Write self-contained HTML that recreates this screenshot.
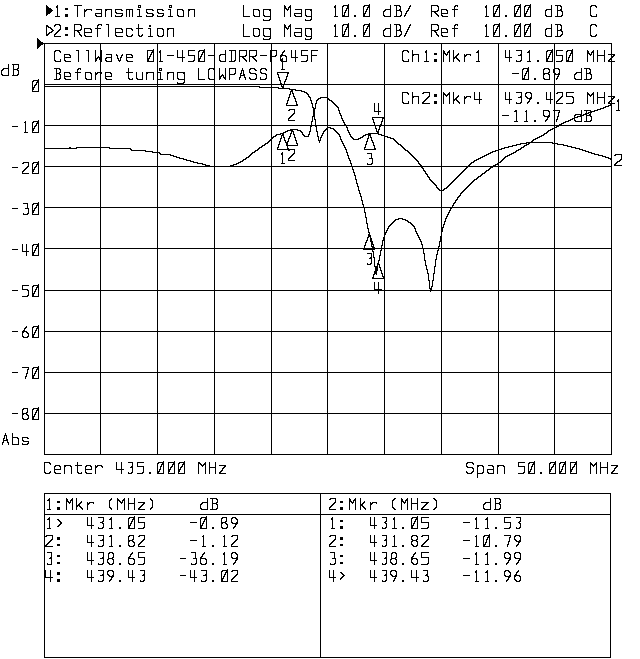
<!DOCTYPE html>
<html lang="en"><head><meta charset="utf-8"><title>Network analyzer plot</title>
<style>
html,body{margin:0;padding:0;background:#fff;}
body{width:640px;height:659px;overflow:hidden;font-family:"Liberation Mono",monospace;}
svg{display:block;}
</style></head><body>
<svg width="640" height="659" viewBox="0 0 640 659" shape-rendering="crispEdges">
<title>Network analyzer plot: CellWave 01-450-dDRR-P645F, Before tuning LOWPASS</title>
<desc>1:Transmission Log Mag 10.0 dB/ Ref 10.00 dB C; 2:Reflection Log Mag 10.0 dB/ Ref 10.00 dB C. Ch1:Mkr1 431.050 MHz -0.89 dB; Ch2:Mkr4 439.425 MHz -11.97 dB. Center 435.000 MHz, Span 50.000 MHz. Marker table 1: 431.05 -0.89, 431.82 -1.12, 438.65 -36.19, 439.43 -43.02. Marker table 2: 431.05 -11.53, 431.82 -10.79, 438.65 -11.99, 439.43 -11.96.</desc>
<rect width="640" height="659" fill="#fff"/>
<path fill="#000" d="M292 93h2v1h-2zM306 93h2v1h-2zM407 93h2v1h-2zM422 93h2v1h-2zM443 93h2v1h-2zM448 93h2v1h-2zM525 93h2v1h-2zM530 93h2v1h-2zM556 93h2v1h-2zM587 93h2v1h-2zM592 93h2v1h-2zM289 94h2v1h-2zM307 94h2v1h-2zM434 94h3v1h-3zM443 94h3v1h-3zM447 94h3v1h-3zM587 94h3v1h-3zM591 94h3v1h-3zM44 43h568v1h-568zM78 504h2v1h-2zM87 504h2v1h-2zM142 504h2v1h-2zM200 504h2v1h-2zM216 504h2v1h-2zM332 504h2v1h-2zM360 504h3v1h-3zM370 504h2v1h-2zM425 504h2v1h-2zM483 504h2v1h-2zM499 504h2v1h-2zM44 514h567v1h-567zM57 581h3v1h-3zM98 581h5v1h-5zM119 581h2v1h-2zM140 581h4v1h-4zM201 581h5v1h-5zM212 581h2v1h-2zM221 581h7v1h-7zM231 581h7v1h-7zM382 581h4v1h-4zM402 581h2v1h-2zM423 581h5v1h-5zM475 581h4v1h-4zM485 581h4v1h-4zM495 581h2v1h-2zM516 581h4v1h-4zM27 166h2v1h-2zM35 166h2v1h-2zM44 166h568v1h-568zM44 454h568v1h-568zM95 58h3v1h-3zM99 58h3v1h-3zM105 58h2v1h-2zM117 58h2v1h-2zM147 58h3v1h-3zM198 58h3v1h-3zM243 58h2v1h-2zM253 58h2v1h-2zM270 58h2v1h-2zM453 58h2v1h-2zM456 58h2v1h-2zM546 58h3v1h-3zM610 58h2v1h-2zM289 109h6v1h-6zM313 109h2v1h-2zM597 109h4v1h-4zM100 53h2v1h-2zM270 53h2v1h-2zM434 53h3v1h-3zM443 53h3v1h-3zM570 53h3v1h-3zM587 53h3v1h-3zM35 207h2v1h-2zM44 207h568v1h-568zM131 150h15v1h-15zM255 150h3v1h-3zM288 150h2v1h-2zM405 150h3v1h-3zM495 150h4v1h-4zM516 150h3v1h-3zM582 150h4v1h-4zM12 290h6v1h-6zM27 290h2v1h-2zM44 290h568v1h-568zM291 115h2v1h-2zM313 115h2v1h-2zM340 115h2v1h-2zM502 115h7v1h-7zM543 115h2v1h-2zM548 115h2v1h-2zM574 115h2v1h-2zM580 115h4v1h-4zM586 115h5v1h-5zM54 469h7v1h-7zM85 469h7v1h-7zM116 469h8v1h-8zM159 469h2v1h-2zM168 469h3v1h-3zM178 469h3v1h-3zM487 469h7v1h-7zM530 469h2v1h-2zM549 469h3v1h-3zM561 469h2v1h-2zM570 469h3v1h-3zM12 413h6v1h-6zM22 413h5v1h-5zM44 413h568v1h-568zM44 577h9v1h-9zM87 577h7v1h-7zM111 577h2v1h-2zM128 577h7v1h-7zM190 577h7v1h-7zM233 577h2v1h-2zM329 577h7v1h-7zM341 577h2v1h-2zM370 577h7v1h-7zM411 577h8v1h-8zM508 577h2v1h-2zM58 525h2v1h-2zM87 525h7v1h-7zM128 525h3v1h-3zM200 525h3v1h-3zM370 525h7v1h-7zM411 525h3v1h-3zM95 59h2v1h-2zM99 59h3v1h-3zM147 59h2v1h-2zM198 59h2v1h-2zM244 59h2v1h-2zM254 59h2v1h-2zM270 59h2v1h-2zM280 59h3v1h-3zM434 59h3v1h-3zM457 59h2v1h-2zM546 59h2v1h-2zM609 59h3v1h-3zM12 331h6v1h-6zM22 331h5v1h-5zM44 331h568v1h-568zM44 572h2v1h-2zM57 572h3v1h-3zM225 572h3v1h-3zM340 572h2v1h-2zM475 572h2v1h-2zM485 572h3v1h-3zM509 572h2v1h-2zM516 572h2v1h-2zM33 121h6v1h-6zM311 121h2v1h-2zM381 121h2v1h-2zM514 121h4v1h-4zM524 121h4v1h-4zM534 121h2v1h-2zM565 121h4v1h-4zM575 121h7v1h-7zM584 121h7v1h-7zM22 289h6v1h-6zM35 289h2v1h-2zM374 289h8v1h-8zM430 289h2v1h-2zM437 188h2v1h-2zM444 188h3v1h-3zM465 188h2v1h-2zM95 13h7v1h-7zM116 13h7v1h-7zM147 13h6v1h-6zM158 13h6v1h-6zM294 13h8v1h-8zM363 13h3v1h-3zM405 13h2v1h-2zM435 13h2v1h-2zM441 13h7v1h-7zM493 13h3v1h-3zM514 13h3v1h-3zM524 13h3v1h-3zM288 110h2v1h-2zM313 110h2v1h-2zM338 110h2v1h-2zM515 110h2v1h-2zM543 110h6v1h-6zM553 110h7v1h-7zM584 110h7v1h-7zM594 110h4v1h-4zM616 110h4v1h-4zM441 229h2v1h-2zM2 75h7v1h-7zM12 75h6v1h-6zM221 75h3v1h-3zM240 75h5v1h-5zM524 75h2v1h-2zM64 54h6v1h-6zM100 54h2v1h-2zM106 54h6v1h-6zM126 54h6v1h-6zM150 54h2v1h-2zM201 54h2v1h-2zM220 54h6v1h-6zM270 54h2v1h-2zM281 54h2v1h-2zM412 54h7v1h-7zM434 54h3v1h-3zM445 54h3v1h-3zM457 54h2v1h-2zM466 54h5v1h-5zM520 54h2v1h-2zM549 54h2v1h-2zM589 54h3v1h-3zM608 54h7v1h-7zM288 120h7v1h-7zM342 120h2v1h-2zM534 120h2v1h-2zM545 120h2v1h-2zM568 120h3v1h-3zM574 120h2v1h-2zM590 120h2v1h-2zM65 14h3v1h-3zM152 14h2v1h-2zM363 14h2v1h-2zM436 14h2v1h-2zM493 14h2v1h-2zM514 14h2v1h-2zM524 14h2v1h-2zM54 60h2v1h-2zM64 60h2v1h-2zM95 60h2v1h-2zM100 60h2v1h-2zM105 60h2v1h-2zM118 60h3v1h-3zM126 60h2v1h-2zM147 60h2v1h-2zM193 60h2v1h-2zM198 60h2v1h-2zM219 60h2v1h-2zM234 60h2v1h-2zM245 60h2v1h-2zM255 60h2v1h-2zM270 60h2v1h-2zM280 60h3v1h-3zM306 60h2v1h-2zM402 60h2v1h-2zM434 60h3v1h-3zM458 60h2v1h-2zM520 60h2v1h-2zM537 60h2v1h-2zM546 60h2v1h-2zM561 60h2v1h-2zM566 60h3v1h-3zM608 60h2v1h-2zM428 177h2v1h-2zM456 177h2v1h-2zM477 177h2v1h-2zM57 537h3v1h-3zM340 537h3v1h-3zM487 537h3v1h-3zM509 537h2v1h-2zM290 116h2v1h-2zM312 116h3v1h-3zM544 116h6v1h-6zM557 116h2v1h-2zM577 116h5v1h-5zM590 116h2v1h-2zM32 81h2v1h-2zM37 81h2v1h-2zM284 81h2v1h-2zM456 199h2v1h-2zM64 76h7v1h-7zM105 76h7v1h-7zM219 76h3v1h-3zM286 76h2v1h-2zM557 76h2v1h-2zM359 193h2v1h-2zM460 193h2v1h-2zM44 86h216v1h-216zM281 86h3v1h-3zM46 35h2v1h-2zM65 35h3v1h-3zM80 35h2v1h-2zM84 35h2v1h-2zM115 35h2v1h-2zM126 35h2v1h-2zM131 35h2v1h-2zM138 35h2v1h-2zM141 35h2v1h-2zM157 35h2v1h-2zM162 35h2v1h-2zM253 35h2v1h-2zM258 35h2v1h-2zM263 35h2v1h-2zM294 35h2v1h-2zM305 35h2v1h-2zM342 35h2v1h-2zM354 35h2v1h-2zM383 35h2v1h-2zM399 35h2v1h-2zM404 35h2v1h-2zM437 35h2v1h-2zM441 35h2v1h-2zM505 35h2v1h-2zM545 35h2v1h-2zM560 35h2v1h-2zM590 35h2v1h-2zM595 35h2v1h-2zM57 507h3v1h-3zM80 507h2v1h-2zM109 507h2v1h-2zM139 507h2v1h-2zM151 507h2v1h-2zM329 507h2v1h-2zM340 507h3v1h-3zM363 507h2v1h-2zM392 507h2v1h-2zM422 507h2v1h-2zM435 507h2v1h-2zM108 553h2v1h-2zM112 553h2v1h-2zM131 553h2v1h-2zM203 553h2v1h-2zM223 553h2v1h-2zM231 553h2v1h-2zM235 553h2v1h-2zM391 553h2v1h-2zM395 553h2v1h-2zM414 553h2v1h-2zM475 553h2v1h-2zM486 553h2v1h-2zM504 553h2v1h-2zM508 553h2v1h-2zM514 553h2v1h-2zM519 553h2v1h-2zM54 36h7v1h-7zM85 36h7v1h-7zM116 36h7v1h-7zM127 36h5v1h-5zM139 36h3v1h-3zM148 36h5v1h-5zM158 36h5v1h-5zM243 36h7v1h-7zM254 36h5v1h-5zM264 36h7v1h-7zM295 36h7v1h-7zM306 36h6v1h-6zM334 36h4v1h-4zM342 36h7v1h-7zM354 36h2v1h-2zM363 36h7v1h-7zM384 36h7v1h-7zM394 36h6v1h-6zM442 36h6v1h-6zM485 36h4v1h-4zM493 36h7v1h-7zM505 36h2v1h-2zM514 36h7v1h-7zM524 36h7v1h-7zM546 36h6v1h-6zM555 36h6v1h-6zM591 36h5v1h-5zM32 255h7v1h-7zM379 255h2v1h-2zM47 564h5v1h-5zM98 564h5v1h-5zM109 564h4v1h-4zM119 564h2v1h-2zM129 564h5v1h-5zM138 564h6v1h-6zM191 564h5v1h-5zM201 564h5v1h-5zM212 564h2v1h-2zM223 564h4v1h-4zM330 564h5v1h-5zM382 564h4v1h-4zM392 564h4v1h-4zM402 564h2v1h-2zM413 564h4v1h-4zM421 564h7v1h-7zM475 564h4v1h-4zM485 564h4v1h-4zM495 564h2v1h-2zM107 559h2v1h-2zM112 559h2v1h-2zM133 559h2v1h-2zM205 559h2v1h-2zM236 559h2v1h-2zM390 559h2v1h-2zM395 559h2v1h-2zM411 559h2v1h-2zM416 559h2v1h-2zM509 559h2v1h-2zM519 559h2v1h-2zM304 92h3v1h-3zM402 92h6v1h-6zM423 92h7v1h-7zM516 92h6v1h-6zM526 92h5v1h-5zM557 92h6v1h-6zM566 92h8v1h-8zM27 333h2v1h-2zM57 502h3v1h-3zM68 502h3v1h-3zM80 502h2v1h-2zM89 502h5v1h-5zM120 502h3v1h-3zM138 502h7v1h-7zM202 502h6v1h-6zM216 502h2v1h-2zM334 502h2v1h-2zM340 502h3v1h-3zM351 502h3v1h-3zM363 502h2v1h-2zM372 502h5v1h-5zM403 502h3v1h-3zM421 502h8v1h-8zM485 502h6v1h-6zM499 502h2v1h-2zM52 30h2v1h-2zM58 30h2v1h-2zM74 30h7v1h-7zM365 30h2v1h-2zM383 30h2v1h-2zM396 30h5v1h-5zM431 30h7v1h-7zM495 30h2v1h-2zM516 30h2v1h-2zM526 30h2v1h-2zM557 30h5v1h-5zM374 272h3v1h-3zM130 554h2v1h-2zM202 554h2v1h-2zM223 554h2v1h-2zM236 554h2v1h-2zM413 554h2v1h-2zM475 554h2v1h-2zM485 554h3v1h-3zM509 554h2v1h-2zM183 159h4v1h-4zM243 159h3v1h-3zM415 159h2v1h-2zM476 159h3v1h-3zM502 159h2v1h-2zM610 159h2v1h-2zM620 159h2v1h-2zM24 328h2v1h-2zM36 328h3v1h-3zM44 570h2v1h-2zM98 570h6v1h-6zM108 570h5v1h-5zM140 570h5v1h-5zM201 570h6v1h-6zM222 570h6v1h-6zM232 570h6v1h-6zM382 570h5v1h-5zM391 570h5v1h-5zM423 570h5v1h-5zM505 570h4v1h-4zM160 154h11v1h-11zM250 154h2v1h-2zM281 154h2v1h-2zM292 154h2v1h-2zM410 154h2v1h-2zM486 154h3v1h-3zM509 154h3v1h-3zM594 154h5v1h-5zM615 154h7v1h-7zM36 164h3v1h-3zM202 164h4v1h-4zM233 164h4v1h-4zM367 164h5v1h-5zM419 164h2v1h-2zM469 164h2v1h-2zM495 164h4v1h-4zM614 164h2v1h-2zM44 575h2v1h-2zM100 575h4v1h-4zM108 575h2v1h-2zM112 575h2v1h-2zM142 575h3v1h-3zM180 575h6v1h-6zM203 575h4v1h-4zM235 575h2v1h-2zM343 575h2v1h-2zM384 575h3v1h-3zM391 575h2v1h-2zM395 575h2v1h-2zM425 575h3v1h-3zM463 575h7v1h-7zM504 575h2v1h-2zM509 575h2v1h-2zM514 575h6v1h-6zM64 57h7v1h-7zM97 57h5v1h-5zM106 57h6v1h-6zM120 57h2v1h-2zM126 57h7v1h-7zM177 57h8v1h-8zM242 57h2v1h-2zM252 57h2v1h-2zM270 57h2v1h-2zM291 57h7v1h-7zM453 57h4v1h-4zM505 57h7v1h-7zM568 57h2v1h-2zM611 57h2v1h-2zM388 226h2v1h-2zM413 226h2v1h-2zM100 52h2v1h-2zM151 52h3v1h-3zM159 52h2v1h-2zM202 52h3v1h-3zM270 52h2v1h-2zM282 52h2v1h-2zM425 52h2v1h-2zM443 52h2v1h-2zM447 52h3v1h-3zM476 52h3v1h-3zM527 52h3v1h-3zM550 52h3v1h-3zM571 52h2v1h-2zM587 52h2v1h-2zM591 52h3v1h-3zM44 462h6v1h-6zM128 462h5v1h-5zM137 462h7v1h-7zM158 462h6v1h-6zM168 462h7v1h-7zM179 462h6v1h-6zM198 462h2v1h-2zM467 462h6v1h-6zM518 462h7v1h-7zM529 462h6v1h-6zM550 462h6v1h-6zM560 462h6v1h-6zM570 462h7v1h-7zM293 113h2v1h-2zM313 113h2v1h-2zM339 113h2v1h-2zM585 113h4v1h-4zM205 165h5v1h-5zM230 165h4v1h-4zM420 165h2v1h-2zM468 165h2v1h-2zM493 165h3v1h-3zM614 165h8v1h-8zM45 473h5v1h-5zM55 473h6v1h-6zM78 473h4v1h-4zM86 473h6v1h-6zM128 473h4v1h-4zM137 473h6v1h-6zM149 473h2v1h-2zM157 473h7v1h-7zM168 473h7v1h-7zM178 473h7v1h-7zM219 473h7v1h-7zM467 473h5v1h-5zM477 473h6v1h-6zM488 473h6v1h-6zM518 473h6v1h-6zM528 473h7v1h-7zM540 473h2v1h-2zM549 473h7v1h-7zM559 473h7v1h-7zM570 473h7v1h-7zM611 473h7v1h-7zM372 278h13v1h-13zM56 73h4v1h-4zM69 73h2v1h-2zM90 73h2v1h-2zM95 73h3v1h-3zM100 73h2v1h-2zM110 73h2v1h-2zM146 73h2v1h-2zM167 73h2v1h-2zM183 73h2v1h-2zM234 73h2v1h-2zM240 73h2v1h-2zM250 73h6v1h-6zM261 73h5v1h-5zM287 73h2v1h-2zM512 73h7v1h-7zM525 73h2v1h-2zM543 73h6v1h-6zM554 73h2v1h-2zM558 73h2v1h-2zM575 73h2v1h-2zM586 73h5v1h-5zM222 468h2v1h-2zM472 468h2v1h-2zM614 468h2v1h-2zM35 125h2v1h-2zM44 125h568v1h-568zM47 519h3v1h-3zM57 519h2v1h-2zM109 519h3v1h-3zM132 519h3v1h-3zM204 519h3v1h-3zM236 519h2v1h-2zM331 519h2v1h-2zM393 519h2v1h-2zM415 519h3v1h-3zM475 519h2v1h-2zM485 519h3v1h-3zM46 535h7v1h-7zM98 535h6v1h-6zM110 535h2v1h-2zM129 535h5v1h-5zM139 535h6v1h-6zM232 535h6v1h-6zM330 535h6v1h-6zM382 535h5v1h-5zM412 535h5v1h-5zM422 535h7v1h-7zM484 535h6v1h-6zM504 535h7v1h-7zM515 535h5v1h-5zM275 135h2v1h-2zM281 135h3v1h-3zM303 135h2v1h-2zM321 135h2v1h-2zM363 135h3v1h-3zM368 135h3v1h-3zM381 135h4v1h-4zM541 135h3v1h-3zM292 114h2v1h-2zM313 114h2v1h-2zM575 114h7v1h-7zM583 114h4v1h-4zM589 114h2v1h-2zM32 130h2v1h-2zM287 130h6v1h-6zM297 130h4v1h-4zM324 130h2v1h-2zM334 130h2v1h-2zM347 130h2v1h-2zM548 130h3v1h-3zM35 248h2v1h-2zM44 248h568v1h-568zM427 176h2v1h-2zM457 176h2v1h-2zM478 176h3v1h-3zM3 68h6v1h-6zM17 68h2v1h-2zM54 68h6v1h-6zM78 68h3v1h-3zM159 68h3v1h-3zM209 68h6v1h-6zM229 68h7v1h-7zM250 68h5v1h-5zM261 68h5v1h-5zM523 68h6v1h-6zM544 68h5v1h-5zM554 68h5v1h-5zM584 68h6v1h-6zM370 238h2v1h-2zM383 238h2v1h-2zM440 238h2v1h-2zM54 79h6v1h-6zM65 79h6v1h-6zM86 79h6v1h-6zM106 79h6v1h-6zM129 79h4v1h-4zM137 79h6v1h-6zM157 79h6v1h-6zM178 79h7v1h-7zM198 79h7v1h-7zM209 79h6v1h-6zM250 79h6v1h-6zM260 79h6v1h-6zM285 79h2v1h-2zM522 79h7v1h-7zM534 79h2v1h-2zM544 79h6v1h-6zM575 79h7v1h-7zM584 79h7v1h-7zM12 372h6v1h-6zM44 372h568v1h-568zM35 371h2v1h-2zM56 7h2v1h-2zM138 7h3v1h-3zM169 7h3v1h-3zM284 7h2v1h-2zM288 7h3v1h-3zM334 7h2v1h-2zM347 7h2v1h-2zM367 7h3v1h-3zM485 7h2v1h-2zM497 7h3v1h-3zM518 7h3v1h-3zM528 7h3v1h-3zM32 417h2v1h-2zM35 84h2v1h-2zM44 84h568v1h-568zM115 12h2v1h-2zM146 12h2v1h-2zM157 12h2v1h-2zM344 12h2v1h-2zM434 12h2v1h-2zM432 182h2v1h-2zM451 182h2v1h-2zM471 182h2v1h-2zM49 541h2v1h-2zM128 541h2v1h-2zM132 541h2v1h-2zM141 541h2v1h-2zM234 541h2v1h-2zM332 541h2v1h-2zM411 541h2v1h-2zM416 541h2v1h-2zM425 541h2v1h-2zM508 541h2v1h-2zM516 541h5v1h-5zM261 146h2v1h-2zM401 146h2v1h-2zM508 146h5v1h-5zM523 146h2v1h-2zM567 146h5v1h-5zM268 141h2v1h-2zM279 141h2v1h-2zM287 141h2v1h-2zM341 141h2v1h-2zM366 141h2v1h-2zM395 141h2v1h-2zM531 141h2v1h-2zM32 378h7v1h-7zM48 33h2v1h-2zM55 33h2v1h-2zM363 33h2v1h-2zM405 33h2v1h-2zM493 33h2v1h-2zM514 33h2v1h-2zM524 33h2v1h-2zM34 85h2v1h-2zM50 28h2v1h-2zM65 28h3v1h-3zM84 28h7v1h-7zM95 28h6v1h-6zM115 28h7v1h-7zM126 28h6v1h-6zM136 28h7v1h-7zM148 28h3v1h-3zM157 28h6v1h-6zM167 28h7v1h-7zM253 28h6v1h-6zM263 28h8v1h-8zM286 28h3v1h-3zM295 28h7v1h-7zM305 28h7v1h-7zM366 28h2v1h-2zM385 28h6v1h-6zM441 28h6v1h-6zM452 28h6v1h-6zM496 28h2v1h-2zM517 28h2v1h-2zM527 28h2v1h-2zM546 28h6v1h-6zM12 249h6v1h-6zM363 249h12v1h-12zM76 506h2v1h-2zM79 506h2v1h-2zM140 506h2v1h-2zM330 506h2v1h-2zM362 506h2v1h-2zM423 506h2v1h-2zM461 192h2v1h-2zM12 167h6v1h-6zM26 167h2v1h-2zM34 167h2v1h-2zM421 167h2v1h-2zM466 167h2v1h-2zM490 167h3v1h-3zM57 562h3v1h-3zM107 562h2v1h-2zM234 562h2v1h-2zM340 562h3v1h-3zM390 562h2v1h-2zM411 562h2v1h-2zM507 562h2v1h-2zM517 562h2v1h-2zM27 213h2v1h-2zM22 332h2v1h-2zM26 332h2v1h-2zM34 332h2v1h-2zM176 157h4v1h-4zM246 157h3v1h-3zM289 157h2v1h-2zM413 157h2v1h-2zM480 157h3v1h-3zM504 157h2v1h-2zM605 157h4v1h-4zM57 501h3v1h-3zM66 501h3v1h-3zM119 501h2v1h-2zM340 501h3v1h-3zM349 501h3v1h-3zM401 501h3v1h-3zM47 552h5v1h-5zM98 552h6v1h-6zM109 552h4v1h-4zM138 552h7v1h-7zM191 552h5v1h-5zM232 552h4v1h-4zM330 552h5v1h-5zM382 552h5v1h-5zM392 552h4v1h-4zM421 552h8v1h-8zM505 552h4v1h-4zM515 552h5v1h-5zM273 136h3v1h-3zM289 136h2v1h-2zM304 136h5v1h-5zM317 136h2v1h-2zM339 136h2v1h-2zM350 136h2v1h-2zM362 136h2v1h-2zM384 136h4v1h-4zM539 136h3v1h-3zM152 152h8v1h-8zM252 152h3v1h-3zM346 152h2v1h-2zM408 152h2v1h-2zM490 152h3v1h-3zM513 152h3v1h-3zM588 152h4v1h-4zM395 219h4v1h-4zM402 219h4v1h-4zM55 465h5v1h-5zM64 465h7v1h-7zM75 465h7v1h-7zM86 465h5v1h-5zM97 465h5v1h-5zM201 465h3v1h-3zM219 465h7v1h-7zM477 465h6v1h-6zM488 465h5v1h-5zM497 465h7v1h-7zM592 465h3v1h-3zM611 465h7v1h-7zM293 96h2v1h-2zM308 96h2v1h-2zM412 96h7v1h-7zM428 96h2v1h-2zM434 96h3v1h-3zM457 96h2v1h-2zM466 96h5v1h-5zM520 96h2v1h-2zM525 96h2v1h-2zM561 96h2v1h-2zM566 96h7v1h-7zM608 96h7v1h-7zM60 522h2v1h-2zM100 522h3v1h-3zM138 522h7v1h-7zM190 522h7v1h-7zM221 522h5v1h-5zM231 522h2v1h-2zM236 522h2v1h-2zM384 522h2v1h-2zM421 522h8v1h-8zM463 522h7v1h-7zM504 522h7v1h-7zM518 522h2v1h-2zM336 106h2v1h-2zM605 106h4v1h-4zM54 466h2v1h-2zM59 466h2v1h-2zM64 466h2v1h-2zM70 466h2v1h-2zM85 466h2v1h-2zM90 466h2v1h-2zM95 466h3v1h-3zM101 466h2v1h-2zM131 466h2v1h-2zM137 466h7v1h-7zM160 466h2v1h-2zM171 466h2v1h-2zM181 466h2v1h-2zM224 466h2v1h-2zM466 466h2v1h-2zM477 466h2v1h-2zM482 466h2v1h-2zM492 466h2v1h-2zM497 466h2v1h-2zM503 466h2v1h-2zM518 466h7v1h-7zM531 466h2v1h-2zM552 466h2v1h-2zM562 466h2v1h-2zM573 466h2v1h-2zM616 466h2v1h-2zM34 291h2v1h-2zM159 153h2v1h-2zM251 153h2v1h-2zM281 153h2v1h-2zM293 153h2v1h-2zM367 153h5v1h-5zM409 153h2v1h-2zM488 153h3v1h-3zM511 153h3v1h-3zM591 153h4v1h-4zM55 50h5v1h-5zM76 50h3v1h-3zM86 50h3v1h-3zM100 50h2v1h-2zM147 50h7v1h-7zM188 50h7v1h-7zM199 50h6v1h-6zM229 50h7v1h-7zM239 50h8v1h-8zM249 50h8v1h-8zM270 50h7v1h-7zM301 50h7v1h-7zM311 50h7v1h-7zM403 50h5v1h-5zM516 50h6v1h-6zM547 50h6v1h-6zM556 50h7v1h-7zM567 50h6v1h-6zM47 528h4v1h-4zM98 528h5v1h-5zM109 528h4v1h-4zM119 528h2v1h-2zM128 528h7v1h-7zM138 528h6v1h-6zM200 528h7v1h-7zM212 528h2v1h-2zM222 528h5v1h-5zM331 528h4v1h-4zM340 528h3v1h-3zM382 528h4v1h-4zM392 528h5v1h-5zM402 528h2v1h-2zM411 528h7v1h-7zM421 528h7v1h-7zM475 528h4v1h-4zM485 528h4v1h-4zM495 528h2v1h-2zM504 528h6v1h-6zM516 528h4v1h-4zM22 163h2v1h-2zM32 163h2v1h-2zM37 163h2v1h-2zM197 163h6v1h-6zM236 163h3v1h-3zM281 163h4v1h-4zM350 163h2v1h-2zM371 163h2v1h-2zM418 163h2v1h-2zM470 163h2v1h-2zM497 163h2v1h-2zM615 163h2v1h-2zM313 112h2v1h-2zM558 112h2v1h-2zM588 112h4v1h-4zM55 61h6v1h-6zM65 61h6v1h-6zM100 61h2v1h-2zM106 61h6v1h-6zM127 61h6v1h-6zM147 61h7v1h-7zM159 61h4v1h-4zM188 61h6v1h-6zM198 61h7v1h-7zM220 61h6v1h-6zM229 61h6v1h-6zM270 61h2v1h-2zM281 61h6v1h-6zM301 61h6v1h-6zM403 61h6v1h-6zM424 61h5v1h-5zM434 61h3v1h-3zM476 61h4v1h-4zM516 61h5v1h-5zM527 61h4v1h-4zM537 61h2v1h-2zM546 61h7v1h-7zM556 61h6v1h-6zM566 61h7v1h-7zM608 61h7v1h-7zM332 102h2v1h-2zM402 102h2v1h-2zM422 102h2v1h-2zM434 102h3v1h-3zM458 102h2v1h-2zM520 102h2v1h-2zM527 102h2v1h-2zM537 102h2v1h-2zM572 102h2v1h-2zM608 102h2v1h-2zM54 51h2v1h-2zM59 51h2v1h-2zM100 51h2v1h-2zM152 51h2v1h-2zM159 51h2v1h-2zM198 51h2v1h-2zM203 51h2v1h-2zM270 51h2v1h-2zM283 51h2v1h-2zM402 51h2v1h-2zM407 51h2v1h-2zM425 51h2v1h-2zM443 51h2v1h-2zM448 51h2v1h-2zM477 51h2v1h-2zM528 51h2v1h-2zM546 51h2v1h-2zM551 51h2v1h-2zM566 51h2v1h-2zM571 51h2v1h-2zM587 51h2v1h-2zM592 51h2v1h-2zM22 409h2v1h-2zM32 409h2v1h-2zM37 409h2v1h-2zM100 56h2v1h-2zM149 56h2v1h-2zM200 56h2v1h-2zM239 56h7v1h-7zM249 56h7v1h-7zM270 56h6v1h-6zM280 56h2v1h-2zM285 56h2v1h-2zM455 56h2v1h-2zM464 56h2v1h-2zM548 56h2v1h-2zM611 56h3v1h-3zM44 657h567v1h-567zM65 15h3v1h-3zM95 15h2v1h-2zM121 15h2v1h-2zM152 15h2v1h-2zM162 15h2v1h-2zM177 15h2v1h-2zM253 15h2v1h-2zM263 15h2v1h-2zM294 15h2v1h-2zM305 15h2v1h-2zM342 15h3v1h-3zM354 15h2v1h-2zM363 15h2v1h-2zM383 15h2v1h-2zM400 15h2v1h-2zM404 15h2v1h-2zM437 15h2v1h-2zM441 15h2v1h-2zM493 15h2v1h-2zM505 15h2v1h-2zM514 15h2v1h-2zM524 15h2v1h-2zM545 15h2v1h-2zM561 15h2v1h-2zM590 15h2v1h-2zM84 10h3v1h-3zM105 10h2v1h-2zM121 10h2v1h-2zM152 10h2v1h-2zM162 10h2v1h-2zM182 10h2v1h-2zM188 10h2v1h-2zM258 10h2v1h-2zM269 10h2v1h-2zM310 10h2v1h-2zM345 10h2v1h-2zM384 10h2v1h-2zM396 10h5v1h-5zM407 10h2v1h-2zM437 10h2v1h-2zM446 10h2v1h-2zM545 10h2v1h-2zM557 10h5v1h-5zM44 493h567v1h-567zM44 472h2v1h-2zM49 472h2v1h-2zM54 472h2v1h-2zM77 472h2v1h-2zM85 472h2v1h-2zM131 472h2v1h-2zM142 472h2v1h-2zM149 472h2v1h-2zM157 472h2v1h-2zM219 472h2v1h-2zM466 472h2v1h-2zM471 472h2v1h-2zM482 472h2v1h-2zM487 472h2v1h-2zM523 472h2v1h-2zM528 472h2v1h-2zM540 472h2v1h-2zM559 472h2v1h-2zM611 472h2v1h-2zM51 539h2v1h-2zM57 539h3v1h-3zM102 539h2v1h-2zM132 539h2v1h-2zM143 539h2v1h-2zM236 539h2v1h-2zM334 539h2v1h-2zM340 539h3v1h-3zM385 539h2v1h-2zM411 539h2v1h-2zM416 539h2v1h-2zM427 539h2v1h-2zM486 539h2v1h-2zM514 539h2v1h-2zM36 123h3v1h-3zM561 123h3v1h-3zM95 467h2v1h-2zM130 467h3v1h-3zM170 467h2v1h-2zM180 467h2v1h-2zM209 467h7v1h-7zM223 467h2v1h-2zM467 467h6v1h-6zM551 467h2v1h-2zM572 467h2v1h-2zM600 467h8v1h-8zM615 467h2v1h-2zM462 191h2v1h-2zM210 498h7v1h-7zM330 498h6v1h-6zM394 498h2v1h-2zM433 498h2v1h-2zM494 498h6v1h-6zM435 185h2v1h-2zM448 185h2v1h-2zM468 185h2v1h-2zM46 544h2v1h-2zM57 544h3v1h-3zM138 544h2v1h-2zM231 544h2v1h-2zM329 544h2v1h-2zM340 544h3v1h-3zM411 544h2v1h-2zM422 544h2v1h-2zM483 544h3v1h-3zM507 544h2v1h-2zM517 544h2v1h-2zM262 145h3v1h-3zM286 145h12v1h-12zM343 145h2v1h-2zM373 145h2v1h-2zM400 145h2v1h-2zM512 145h5v1h-5zM524 145h3v1h-3zM563 145h5v1h-5zM55 16h5v1h-5zM65 16h3v1h-3zM96 16h6v1h-6zM115 16h7v1h-7zM137 16h5v1h-5zM146 16h7v1h-7zM157 16h6v1h-6zM168 16h5v1h-5zM178 16h6v1h-6zM243 16h7v1h-7zM254 16h6v1h-6zM264 16h7v1h-7zM295 16h7v1h-7zM306 16h6v1h-6zM334 16h4v1h-4zM342 16h7v1h-7zM354 16h2v1h-2zM363 16h7v1h-7zM384 16h7v1h-7zM394 16h7v1h-7zM442 16h6v1h-6zM485 16h4v1h-4zM493 16h7v1h-7zM505 16h2v1h-2zM514 16h7v1h-7zM524 16h7v1h-7zM546 16h6v1h-6zM555 16h7v1h-7zM591 16h6v1h-6zM59 78h2v1h-2zM64 78h2v1h-2zM85 78h2v1h-2zM105 78h2v1h-2zM128 78h2v1h-2zM136 78h2v1h-2zM177 78h2v1h-2zM208 78h2v1h-2zM219 78h2v1h-2zM224 78h2v1h-2zM249 78h2v1h-2zM255 78h2v1h-2zM265 78h2v1h-2zM522 78h3v1h-3zM534 78h2v1h-2zM543 78h2v1h-2zM556 78h2v1h-2zM574 78h2v1h-2zM590 78h2v1h-2zM57 556h3v1h-3zM129 556h2v1h-2zM201 556h2v1h-2zM340 556h3v1h-3zM412 556h2v1h-2zM170 155h4v1h-4zM249 155h2v1h-2zM291 155h2v1h-2zM347 155h2v1h-2zM411 155h2v1h-2zM484 155h3v1h-3zM507 155h3v1h-3zM598 155h5v1h-5zM614 155h2v1h-2zM49 32h3v1h-3zM56 32h2v1h-2zM78 32h2v1h-2zM84 32h8v1h-8zM115 32h8v1h-8zM294 32h8v1h-8zM363 32h3v1h-3zM435 32h2v1h-2zM441 32h7v1h-7zM493 32h3v1h-3zM514 32h3v1h-3zM524 32h3v1h-3zM454 202h2v1h-2zM27 443h2v1h-2zM317 99h2v1h-2zM327 99h3v1h-3zM425 99h2v1h-2zM453 99h4v1h-4zM474 99h8v1h-8zM505 99h7v1h-7zM529 99h2v1h-2zM546 99h7v1h-7zM558 99h2v1h-2zM611 99h2v1h-2zM360 196h2v1h-2zM458 196h2v1h-2zM12 437h6v1h-6zM22 437h6v1h-6zM296 104h2v1h-2zM334 104h2v1h-2zM610 104h2v1h-2zM366 223h2v1h-2zM391 223h2v1h-2zM410 223h2v1h-2zM287 100h2v1h-2zM310 100h2v1h-2zM316 100h2v1h-2zM329 100h3v1h-3zM424 100h2v1h-2zM453 100h2v1h-2zM456 100h2v1h-2zM557 100h2v1h-2zM610 100h2v1h-2zM617 100h2v1h-2zM22 336h2v1h-2zM27 336h2v1h-2zM32 336h2v1h-2zM22 285h7v1h-7zM33 285h6v1h-6zM76 505h4v1h-4zM141 505h2v1h-2zM331 505h2v1h-2zM360 505h3v1h-3zM424 505h2v1h-2zM23 330h2v1h-2zM35 330h2v1h-2zM173 156h4v1h-4zM248 156h2v1h-2zM290 156h2v1h-2zM412 156h2v1h-2zM482 156h3v1h-3zM505 156h3v1h-3zM602 156h4v1h-4zM59 521h2v1h-2zM102 521h2v1h-2zM131 521h2v1h-2zM203 521h2v1h-2zM225 521h2v1h-2zM340 521h3v1h-3zM385 521h2v1h-2zM414 521h2v1h-2zM519 521h2v1h-2zM221 578h3v1h-3zM232 578h2v1h-2zM340 578h2v1h-2zM394 578h2v1h-2zM168 470h2v1h-2zM178 470h2v1h-2zM221 470h2v1h-2zM549 470h2v1h-2zM570 470h2v1h-2zM613 470h2v1h-2zM23 419h5v1h-5zM32 419h7v1h-7zM32 245h2v1h-2zM37 245h2v1h-2zM364 245h2v1h-2zM381 245h2v1h-2zM65 9h3v1h-3zM86 9h6v1h-6zM96 9h6v1h-6zM105 9h7v1h-7zM115 9h7v1h-7zM126 9h7v1h-7zM137 9h3v1h-3zM146 9h7v1h-7zM157 9h6v1h-6zM168 9h3v1h-3zM177 9h6v1h-6zM188 9h7v1h-7zM253 9h6v1h-6zM263 9h8v1h-8zM286 9h3v1h-3zM295 9h7v1h-7zM305 9h7v1h-7zM366 9h2v1h-2zM385 9h6v1h-6zM399 9h2v1h-2zM441 9h6v1h-6zM452 9h6v1h-6zM496 9h2v1h-2zM517 9h2v1h-2zM527 9h2v1h-2zM546 9h6v1h-6zM560 9h2v1h-2zM1 70h2v1h-2zM17 70h2v1h-2zM159 70h3v1h-3zM241 70h3v1h-3zM255 70h2v1h-2zM527 70h2v1h-2zM553 70h2v1h-2zM434 184h2v1h-2zM449 184h2v1h-2zM469 184h2v1h-2zM47 543h2v1h-2zM139 543h2v1h-2zM232 543h2v1h-2zM330 543h2v1h-2zM423 543h2v1h-2zM22 251h7v1h-7zM372 251h2v1h-2zM57 538h3v1h-3zM340 538h3v1h-3zM271 138h2v1h-2zM280 138h2v1h-2zM288 138h2v1h-2zM352 138h2v1h-2zM358 138h3v1h-3zM367 138h2v1h-2zM390 138h4v1h-4zM535 138h3v1h-3zM24 132h4v1h-4zM32 132h7v1h-7zM283 132h3v1h-3zM301 132h2v1h-2zM336 132h2v1h-2zM348 132h2v1h-2zM377 132h2v1h-2zM546 132h2v1h-2zM3 440h5v1h-5zM22 440h2v1h-2zM44 148h33v1h-33zM109 148h22v1h-22zM258 148h2v1h-2zM287 148h2v1h-2zM374 148h2v1h-2zM403 148h2v1h-2zM501 148h4v1h-4zM520 148h2v1h-2zM575 148h5v1h-5zM34 250h2v1h-2zM380 250h2v1h-2zM437 250h2v1h-2zM327 127h4v1h-4zM346 127h2v1h-2zM554 127h3v1h-3zM79 503h2v1h-2zM87 503h3v1h-3zM128 503h7v1h-7zM143 503h2v1h-2zM201 503h2v1h-2zM212 503h5v1h-5zM333 503h2v1h-2zM362 503h2v1h-2zM370 503h3v1h-3zM411 503h7v1h-7zM426 503h2v1h-2zM484 503h2v1h-2zM495 503h5v1h-5zM280 133h4v1h-4zM290 133h2v1h-2zM322 133h2v1h-2zM337 133h2v1h-2zM368 133h11v1h-11zM544 133h3v1h-3zM130 149h2v1h-2zM257 149h2v1h-2zM277 149h18v1h-18zM345 149h2v1h-2zM364 149h12v1h-12zM404 149h2v1h-2zM498 149h4v1h-4zM518 149h3v1h-3zM579 149h4v1h-4zM87 560h7v1h-7zM235 560h2v1h-2zM370 560h7v1h-7zM508 560h2v1h-2zM518 560h2v1h-2zM219 77h2v1h-2zM223 77h3v1h-3zM239 77h2v1h-2zM244 77h2v1h-2zM278 77h2v1h-2zM265 143h3v1h-3zM286 143h2v1h-2zM296 143h2v1h-2zM342 143h2v1h-2zM397 143h2v1h-2zM520 143h7v1h-7zM528 143h2v1h-2zM552 143h6v1h-6zM36 205h3v1h-3zM452 205h2v1h-2zM294 98h2v1h-2zM318 98h3v1h-3zM327 98h2v1h-2zM426 98h2v1h-2zM455 98h2v1h-2zM464 98h2v1h-2zM527 98h5v1h-5zM559 98h2v1h-2zM611 98h3v1h-3zM57 508h3v1h-3zM81 508h2v1h-2zM110 508h2v1h-2zM138 508h2v1h-2zM150 508h2v1h-2zM200 508h2v1h-2zM216 508h2v1h-2zM340 508h3v1h-3zM364 508h2v1h-2zM393 508h2v1h-2zM421 508h2v1h-2zM434 508h2v1h-2zM483 508h2v1h-2zM499 508h2v1h-2zM286 103h2v1h-2zM311 103h2v1h-2zM315 103h2v1h-2zM333 103h2v1h-2zM403 103h6v1h-6zM422 103h8v1h-8zM434 103h3v1h-3zM516 103h5v1h-5zM537 103h2v1h-2zM556 103h7v1h-7zM566 103h7v1h-7zM608 103h7v1h-7zM446 216h2v1h-2zM44 571h2v1h-2zM107 571h2v1h-2zM112 571h2v1h-2zM221 571h2v1h-2zM226 571h2v1h-2zM231 571h2v1h-2zM390 571h2v1h-2zM395 571h2v1h-2zM475 571h2v1h-2zM486 571h2v1h-2zM504 571h2v1h-2zM508 571h2v1h-2zM517 571h2v1h-2zM392 222h2v1h-2zM408 222h3v1h-3zM49 463h2v1h-2zM157 463h2v1h-2zM162 463h2v1h-2zM173 463h2v1h-2zM178 463h2v1h-2zM183 463h2v1h-2zM198 463h3v1h-3zM204 463h2v1h-2zM466 463h2v1h-2zM472 463h2v1h-2zM528 463h2v1h-2zM533 463h2v1h-2zM549 463h2v1h-2zM554 463h2v1h-2zM559 463h2v1h-2zM564 463h2v1h-2zM575 463h2v1h-2zM590 463h2v1h-2zM595 463h2v1h-2zM47 509h4v1h-4zM57 509h3v1h-3zM138 509h7v1h-7zM201 509h7v1h-7zM210 509h7v1h-7zM329 509h7v1h-7zM340 509h3v1h-3zM394 509h2v1h-2zM421 509h8v1h-8zM433 509h2v1h-2zM484 509h7v1h-7zM494 509h6v1h-6zM58 520h2v1h-2zM340 520h3v1h-3zM2 69h2v1h-2zM13 69h5v1h-5zM59 69h2v1h-2zM77 69h2v1h-2zM208 69h2v1h-2zM213 69h2v1h-2zM249 69h2v1h-2zM254 69h2v1h-2zM260 69h2v1h-2zM265 69h2v1h-2zM281 69h4v1h-4zM522 69h2v1h-2zM527 69h2v1h-2zM543 69h2v1h-2zM548 69h2v1h-2zM553 69h2v1h-2zM558 69h2v1h-2zM589 69h2v1h-2zM384 233h2v1h-2zM416 233h2v1h-2zM367 228h2v1h-2zM387 228h2v1h-2zM414 228h2v1h-2zM441 228h2v1h-2zM27 295h2v1h-2zM32 295h2v1h-2zM285 131h3v1h-3zM291 131h3v1h-3zM300 131h2v1h-2zM309 131h2v1h-2zM316 131h2v1h-2zM323 131h2v1h-2zM335 131h2v1h-2zM376 131h3v1h-3zM547 131h2v1h-2zM23 203h5v1h-5zM33 203h6v1h-6zM453 203h2v1h-2zM69 147h2v1h-2zM76 147h34v1h-34zM259 147h3v1h-3zM277 147h2v1h-2zM344 147h2v1h-2zM364 147h2v1h-2zM402 147h2v1h-2zM504 147h5v1h-5zM521 147h3v1h-3zM571 147h5v1h-5zM22 367h7v1h-7zM33 367h6v1h-6zM4 435h3v1h-3zM267 142h2v1h-2zM285 142h3v1h-3zM372 142h2v1h-2zM396 142h2v1h-2zM526 142h27v1h-27zM49 558h3v1h-3zM100 558h4v1h-4zM108 558h5v1h-5zM128 558h6v1h-6zM180 558h6v1h-6zM193 558h4v1h-4zM200 558h6v1h-6zM232 558h6v1h-6zM332 558h4v1h-4zM384 558h3v1h-3zM391 558h5v1h-5zM411 558h6v1h-6zM463 558h7v1h-7zM505 558h6v1h-6zM515 558h6v1h-6zM51 29h2v1h-2zM59 29h2v1h-2zM65 29h3v1h-3zM80 29h2v1h-2zM90 29h2v1h-2zM121 29h2v1h-2zM131 29h2v1h-2zM162 29h2v1h-2zM167 29h2v1h-2zM258 29h2v1h-2zM269 29h2v1h-2zM310 29h2v1h-2zM345 29h2v1h-2zM384 29h2v1h-2zM399 29h2v1h-2zM407 29h2v1h-2zM437 29h2v1h-2zM446 29h2v1h-2zM545 29h2v1h-2zM560 29h2v1h-2zM23 214h5v1h-5zM32 214h7v1h-7zM447 214h2v1h-2zM32 91h7v1h-7zM290 91h3v1h-3zM301 91h4v1h-4zM46 34h3v1h-3zM54 34h2v1h-2zM65 34h3v1h-3zM79 34h2v1h-2zM342 34h3v1h-3zM363 34h2v1h-2zM400 34h2v1h-2zM436 34h2v1h-2zM493 34h2v1h-2zM514 34h2v1h-2zM524 34h2v1h-2zM561 34h2v1h-2zM382 276h3v1h-3zM44 574h2v1h-2zM57 574h3v1h-3zM102 574h2v1h-2zM107 574h2v1h-2zM143 574h2v1h-2zM205 574h2v1h-2zM224 574h2v1h-2zM236 574h2v1h-2zM342 574h2v1h-2zM385 574h2v1h-2zM390 574h2v1h-2zM426 574h2v1h-2zM515 574h2v1h-2zM48 518h2v1h-2zM110 518h2v1h-2zM128 518h2v1h-2zM133 518h2v1h-2zM200 518h2v1h-2zM205 518h2v1h-2zM221 518h2v1h-2zM231 518h2v1h-2zM235 518h2v1h-2zM331 518h2v1h-2zM393 518h2v1h-2zM411 518h2v1h-2zM416 518h2v1h-2zM475 518h2v1h-2zM486 518h2v1h-2zM57 579h3v1h-3zM110 579h2v1h-2zM221 579h2v1h-2zM231 579h2v1h-2zM507 579h2v1h-2zM514 579h2v1h-2zM74 5h8v1h-8zM138 5h3v1h-3zM169 5h3v1h-3zM343 5h6v1h-6zM364 5h6v1h-6zM394 5h6v1h-6zM431 5h7v1h-7zM455 5h3v1h-3zM494 5h6v1h-6zM515 5h6v1h-6zM525 5h6v1h-6zM555 5h6v1h-6zM591 5h5v1h-5zM24 169h2v1h-2zM32 169h3v1h-3zM352 169h2v1h-2zM464 169h2v1h-2zM488 169h2v1h-2zM36 410h3v1h-3zM288 97h2v1h-2zM309 97h2v1h-2zM320 97h8v1h-8zM412 97h2v1h-2zM427 97h2v1h-2zM456 97h2v1h-2zM464 97h3v1h-3zM518 97h4v1h-4zM526 97h2v1h-2zM530 97h2v1h-2zM560 97h2v1h-2zM572 97h2v1h-2zM597 97h8v1h-8zM613 97h2v1h-2zM313 108h3v1h-3zM600 108h4v1h-4zM59 72h2v1h-2zM64 72h6v1h-6zM75 72h6v1h-6zM85 72h6v1h-6zM97 72h5v1h-5zM105 72h6v1h-6zM126 72h7v1h-7zM146 72h8v1h-8zM157 72h4v1h-4zM167 72h7v1h-7zM177 72h8v1h-8zM249 72h2v1h-2zM260 72h2v1h-2zM277 72h12v1h-12zM548 72h2v1h-2zM553 72h2v1h-2zM576 72h6v1h-6zM589 72h2v1h-2zM314 119h2v1h-2zM372 119h2v1h-2zM546 119h2v1h-2zM556 119h2v1h-2zM570 119h3v1h-3zM36 287h3v1h-3zM270 139h2v1h-2zM340 139h2v1h-2zM353 139h6v1h-6zM393 139h2v1h-2zM533 139h3v1h-3zM276 134h5v1h-5zM282 134h2v1h-2zM293 134h2v1h-2zM302 134h2v1h-2zM308 134h2v1h-2zM338 134h2v1h-2zM349 134h2v1h-2zM365 134h6v1h-6zM378 134h4v1h-4zM543 134h2v1h-2zM430 180h2v1h-2zM453 180h2v1h-2zM473 180h2v1h-2zM269 140h3v1h-3zM284 140h2v1h-2zM295 140h2v1h-2zM318 140h3v1h-3zM371 140h2v1h-2zM394 140h2v1h-2zM532 140h2v1h-2zM365 242h2v1h-2zM371 242h2v1h-2zM84 11h2v1h-2zM365 11h2v1h-2zM383 11h2v1h-2zM400 11h2v1h-2zM406 11h2v1h-2zM431 11h7v1h-7zM495 11h2v1h-2zM516 11h2v1h-2zM526 11h2v1h-2zM561 11h2v1h-2zM50 540h2v1h-2zM100 540h4v1h-4zM128 540h5v1h-5zM142 540h2v1h-2zM190 540h7v1h-7zM235 540h2v1h-2zM333 540h2v1h-2zM384 540h3v1h-3zM412 540h5v1h-5zM426 540h2v1h-2zM463 540h7v1h-7zM515 540h2v1h-2zM519 540h2v1h-2zM32 89h2v1h-2zM289 89h7v1h-7zM435 259h2v1h-2zM25 376h2v1h-2zM32 376h2v1h-2zM32 253h2v1h-2zM367 253h5v1h-5zM423 253h2v1h-2zM48 27h3v1h-3zM65 27h3v1h-3zM284 27h3v1h-3zM346 27h3v1h-3zM408 27h2v1h-2zM50 557h2v1h-2zM102 557h2v1h-2zM112 557h2v1h-2zM128 557h2v1h-2zM138 557h7v1h-7zM200 557h2v1h-2zM231 557h2v1h-2zM236 557h2v1h-2zM385 557h2v1h-2zM395 557h2v1h-2zM411 557h2v1h-2zM421 557h8v1h-8zM504 557h2v1h-2zM509 557h2v1h-2zM514 557h2v1h-2zM190 161h4v1h-4zM240 161h3v1h-3zM417 161h2v1h-2zM473 161h2v1h-2zM500 161h2v1h-2zM617 161h3v1h-3zM12 444h7v1h-7zM22 444h6v1h-6zM386 230h2v1h-2zM441 230h2v1h-2zM69 55h2v1h-2zM100 55h2v1h-2zM116 55h2v1h-2zM121 55h2v1h-2zM131 55h2v1h-2zM167 55h7v1h-7zM188 55h7v1h-7zM208 55h7v1h-7zM219 55h2v1h-2zM245 55h2v1h-2zM255 55h2v1h-2zM260 55h7v1h-7zM270 55h2v1h-2zM275 55h2v1h-2zM280 55h6v1h-6zM301 55h7v1h-7zM311 55h6v1h-6zM412 55h2v1h-2zM456 55h2v1h-2zM464 55h3v1h-3zM518 55h4v1h-4zM556 55h7v1h-7zM569 55h2v1h-2zM597 55h8v1h-8zM613 55h2v1h-2zM22 173h7v1h-7zM32 173h7v1h-7zM425 173h2v1h-2zM460 173h2v1h-2zM482 173h3v1h-3zM157 471h3v1h-3zM168 471h2v1h-2zM178 471h2v1h-2zM220 471h2v1h-2zM472 471h2v1h-2zM528 471h3v1h-3zM549 471h2v1h-2zM559 471h3v1h-3zM570 471h2v1h-2zM612 471h2v1h-2zM459 195h2v1h-2zM438 189h2v1h-2zM443 189h2v1h-2zM464 189h2v1h-2zM46 25h2v1h-2zM54 25h2v1h-2zM59 25h2v1h-2zM80 25h2v1h-2zM97 25h2v1h-2zM149 25h2v1h-2zM284 25h2v1h-2zM289 25h2v1h-2zM334 25h2v1h-2zM342 25h2v1h-2zM347 25h2v1h-2zM363 25h2v1h-2zM368 25h2v1h-2zM399 25h2v1h-2zM409 25h2v1h-2zM437 25h2v1h-2zM454 25h2v1h-2zM485 25h2v1h-2zM493 25h2v1h-2zM498 25h2v1h-2zM514 25h2v1h-2zM519 25h2v1h-2zM524 25h2v1h-2zM529 25h2v1h-2zM560 25h2v1h-2zM590 25h2v1h-2zM595 25h2v1h-2zM51 31h2v1h-2zM57 31h2v1h-2zM77 31h2v1h-2zM344 31h2v1h-2zM400 31h2v1h-2zM406 31h2v1h-2zM434 31h2v1h-2zM561 31h2v1h-2zM361 200h2v1h-2zM455 200h2v1h-2zM264 144h2v1h-2zM278 144h2v1h-2zM286 144h2v1h-2zM365 144h2v1h-2zM398 144h3v1h-3zM516 144h5v1h-5zM526 144h3v1h-3zM557 144h7v1h-7zM186 160h5v1h-5zM242 160h2v1h-2zM288 160h7v1h-7zM349 160h2v1h-2zM416 160h2v1h-2zM474 160h3v1h-3zM501 160h2v1h-2zM619 160h2v1h-2zM23 170h2v1h-2zM32 170h2v1h-2zM423 170h2v1h-2zM463 170h2v1h-2zM486 170h3v1h-3zM161 464h3v1h-3zM172 464h3v1h-3zM182 464h3v1h-3zM200 464h2v1h-2zM203 464h3v1h-3zM532 464h3v1h-3zM553 464h3v1h-3zM563 464h3v1h-3zM574 464h3v1h-3zM590 464h3v1h-3zM594 464h3v1h-3zM12 126h6v1h-6zM34 126h2v1h-2zM310 126h2v1h-2zM315 126h2v1h-2zM379 126h2v1h-2zM556 126h3v1h-3zM65 8h3v1h-3zM284 8h3v1h-3zM346 8h3v1h-3zM408 8h2v1h-2zM1 74h2v1h-2zM17 74h2v1h-2zM59 74h2v1h-2zM95 74h2v1h-2zM229 74h6v1h-6zM243 74h2v1h-2zM255 74h2v1h-2zM265 74h2v1h-2zM277 74h2v1h-2zM543 74h2v1h-2zM548 74h2v1h-2zM554 74h6v1h-6zM574 74h2v1h-2zM590 74h2v1h-2zM44 536h3v1h-3zM109 536h3v1h-3zM128 536h2v1h-2zM138 536h2v1h-2zM202 536h2v1h-2zM223 536h2v1h-2zM231 536h2v1h-2zM329 536h2v1h-2zM393 536h2v1h-2zM411 536h2v1h-2zM416 536h2v1h-2zM421 536h2v1h-2zM475 536h2v1h-2zM483 536h2v1h-2zM488 536h2v1h-2zM514 536h2v1h-2zM519 536h2v1h-2zM57 526h2v1h-2zM128 526h2v1h-2zM200 526h2v1h-2zM234 526h2v1h-2zM340 526h3v1h-3zM411 526h2v1h-2zM48 542h2v1h-2zM87 542h7v1h-7zM133 542h2v1h-2zM140 542h2v1h-2zM233 542h2v1h-2zM331 542h2v1h-2zM370 542h7v1h-7zM424 542h2v1h-2zM485 542h2v1h-2zM518 542h2v1h-2zM378 260h2v1h-2zM424 260h2v1h-2zM55 24h5v1h-5zM74 24h7v1h-7zM98 24h4v1h-4zM106 24h3v1h-3zM343 24h6v1h-6zM364 24h6v1h-6zM394 24h6v1h-6zM431 24h7v1h-7zM455 24h3v1h-3zM494 24h6v1h-6zM515 24h6v1h-6zM525 24h6v1h-6zM555 24h6v1h-6zM591 24h5v1h-5zM374 271h3v1h-3zM288 118h2v1h-2zM341 118h2v1h-2zM382 118h3v1h-3zM572 118h3v1h-3zM367 237h2v1h-2zM383 237h2v1h-2zM418 237h2v1h-2zM440 237h2v1h-2zM368 232h2v1h-2zM384 232h3v1h-3zM56 6h2v1h-2zM284 6h2v1h-2zM289 6h2v1h-2zM334 6h2v1h-2zM342 6h2v1h-2zM347 6h2v1h-2zM363 6h2v1h-2zM368 6h2v1h-2zM399 6h2v1h-2zM409 6h2v1h-2zM437 6h2v1h-2zM454 6h2v1h-2zM485 6h2v1h-2zM493 6h2v1h-2zM498 6h2v1h-2zM514 6h2v1h-2zM519 6h2v1h-2zM524 6h2v1h-2zM529 6h2v1h-2zM560 6h2v1h-2zM590 6h2v1h-2zM595 6h2v1h-2zM436 187h2v1h-2zM446 187h2v1h-2zM466 187h2v1h-2zM44 545h3v1h-3zM57 545h3v1h-3zM102 545h2v1h-2zM119 545h2v1h-2zM128 545h2v1h-2zM133 545h2v1h-2zM212 545h2v1h-2zM340 545h3v1h-3zM385 545h2v1h-2zM402 545h2v1h-2zM412 545h2v1h-2zM416 545h2v1h-2zM421 545h2v1h-2zM483 545h2v1h-2zM495 545h2v1h-2zM516 545h2v1h-2zM431 181h2v1h-2zM452 181h2v1h-2zM472 181h2v1h-2zM47 500h3v1h-3zM66 500h2v1h-2zM70 500h3v1h-3zM109 500h2v1h-2zM117 500h3v1h-3zM122 500h3v1h-3zM151 500h2v1h-2zM349 500h2v1h-2zM353 500h3v1h-3zM392 500h2v1h-2zM401 500h2v1h-2zM405 500h3v1h-3zM435 500h2v1h-2zM6 439h2v1h-2zM375 270h3v1h-3zM380 270h2v1h-2zM398 218h5v1h-5zM445 218h2v1h-2zM23 162h6v1h-6zM33 162h6v1h-6zM193 162h5v1h-5zM238 162h3v1h-3zM471 162h3v1h-3zM498 162h3v1h-3zM616 162h2v1h-2zM263 39h7v1h-7zM305 39h6v1h-6zM428 280h2v1h-2zM432 280h2v1h-2zM57 563h3v1h-3zM102 563h2v1h-2zM108 563h2v1h-2zM112 563h2v1h-2zM119 563h2v1h-2zM128 563h2v1h-2zM133 563h2v1h-2zM143 563h2v1h-2zM195 563h2v1h-2zM200 563h2v1h-2zM205 563h2v1h-2zM212 563h2v1h-2zM233 563h2v1h-2zM334 563h2v1h-2zM340 563h3v1h-3zM385 563h2v1h-2zM391 563h2v1h-2zM395 563h2v1h-2zM402 563h2v1h-2zM412 563h2v1h-2zM416 563h2v1h-2zM427 563h2v1h-2zM495 563h2v1h-2zM506 563h2v1h-2zM516 563h2v1h-2zM44 573h2v1h-2zM57 573h3v1h-3zM341 573h2v1h-2zM60 523h2v1h-2zM102 523h2v1h-2zM130 523h2v1h-2zM202 523h2v1h-2zM221 523h2v1h-2zM225 523h2v1h-2zM232 523h6v1h-6zM385 523h2v1h-2zM413 523h2v1h-2zM519 523h2v1h-2zM24 122h2v1h-2zM32 122h2v1h-2zM37 122h2v1h-2zM343 122h2v1h-2zM373 122h2v1h-2zM563 122h3v1h-3zM22 414h2v1h-2zM26 414h2v1h-2zM34 414h2v1h-2zM390 224h2v1h-2zM411 224h2v1h-2zM443 224h2v1h-2zM426 174h2v1h-2zM459 174h2v1h-2zM481 174h2v1h-2zM289 117h2v1h-2zM372 117h13v1h-13zM547 117h2v1h-2zM574 117h4v1h-4zM98 517h6v1h-6zM129 517h6v1h-6zM138 517h7v1h-7zM201 517h6v1h-6zM222 517h5v1h-5zM232 517h4v1h-4zM382 517h5v1h-5zM412 517h6v1h-6zM421 517h8v1h-8zM504 517h7v1h-7zM516 517h5v1h-5zM32 252h3v1h-3zM46 26h3v1h-3zM149 26h2v1h-2zM284 26h2v1h-2zM288 26h3v1h-3zM334 26h2v1h-2zM347 26h2v1h-2zM367 26h3v1h-3zM485 26h2v1h-2zM497 26h3v1h-3zM518 26h3v1h-3zM528 26h3v1h-3zM36 246h3v1h-3zM371 246h3v1h-3zM438 246h2v1h-2zM32 87h3v1h-3zM259 87h20v1h-20zM282 87h2v1h-2zM372 247h3v1h-3zM370 263h2v1h-2zM377 263h2v1h-2zM370 257h2v1h-2zM373 257h2v1h-2zM353 172h2v1h-2zM461 172h2v1h-2zM484 172h2v1h-2zM23 408h5v1h-5zM33 408h6v1h-6zM356 183h2v1h-2zM433 183h2v1h-2zM450 183h2v1h-2zM470 183h2v1h-2zM368 234h2v1h-2zM384 234h2v1h-2zM102 527h2v1h-2zM119 527h2v1h-2zM128 527h2v1h-2zM143 527h2v1h-2zM200 527h2v1h-2zM212 527h2v1h-2zM221 527h2v1h-2zM226 527h2v1h-2zM233 527h2v1h-2zM340 527h3v1h-3zM385 527h2v1h-2zM402 527h2v1h-2zM411 527h2v1h-2zM427 527h2v1h-2zM495 527h2v1h-2zM509 527h2v1h-2zM519 527h2v1h-2zM33 244h6v1h-6zM371 244h3v1h-3zM421 244h2v1h-2zM370 239h2v1h-2zM383 239h2v1h-2zM419 239h2v1h-2zM440 239h2v1h-2zM32 210h3v1h-3zM449 210h2v1h-2zM375 267h3v1h-3zM379 267h2v1h-2zM44 576h2v1h-2zM109 576h5v1h-5zM223 576h2v1h-2zM234 576h2v1h-2zM342 576h2v1h-2zM392 576h5v1h-5zM427 576h2v1h-2zM505 576h6v1h-6zM514 576h2v1h-2zM519 576h2v1h-2zM344 124h2v1h-2zM380 124h2v1h-2zM559 124h3v1h-3zM32 294h2v1h-2zM44 546h9v1h-9zM98 546h5v1h-5zM109 546h4v1h-4zM119 546h2v1h-2zM129 546h5v1h-5zM138 546h7v1h-7zM202 546h4v1h-4zM212 546h2v1h-2zM223 546h4v1h-4zM231 546h7v1h-7zM329 546h7v1h-7zM382 546h4v1h-4zM392 546h5v1h-5zM402 546h2v1h-2zM413 546h4v1h-4zM421 546h8v1h-8zM475 546h4v1h-4zM483 546h7v1h-7zM495 546h2v1h-2zM367 264h4v1h-4zM377 264h3v1h-3zM12 208h6v1h-6zM25 208h4v1h-4zM34 208h2v1h-2zM450 208h2v1h-2zM23 337h5v1h-5zM32 337h7v1h-7zM312 107h2v1h-2zM337 107h2v1h-2zM603 107h3v1h-3zM179 158h5v1h-5zM245 158h2v1h-2zM288 158h2v1h-2zM348 158h2v1h-2zM369 158h4v1h-4zM414 158h2v1h-2zM478 158h3v1h-3zM503 158h2v1h-2zM608 158h4v1h-4zM32 416h3v1h-3zM526 71h3v1h-3zM553 71h2v1h-2zM32 129h2v1h-2zM290 129h8v1h-8zM325 129h3v1h-3zM333 129h2v1h-2zM378 129h2v1h-2zM550 129h3v1h-3zM370 241h3v1h-3zM420 241h2v1h-2zM439 241h3v1h-3zM368 236h3v1h-3zM440 236h2v1h-2zM32 88h2v1h-2zM278 88h12v1h-12zM369 258h3v1h-3zM177 83h7v1h-7zM280 83h2v1h-2zM57 555h3v1h-3zM340 555h3v1h-3zM286 105h12v1h-12zM335 105h2v1h-2zM608 105h4v1h-4zM366 240h2v1h-2zM370 240h2v1h-2zM382 240h3v1h-3zM440 240h2v1h-2zM269 19h2v1h-2zM310 19h2v1h-2zM263 20h7v1h-7zM305 20h6v1h-6zM32 368h2v1h-2zM37 368h2v1h-2zM23 441h6v1h-6zM393 221h2v1h-2zM407 221h2v1h-2zM444 221h2v1h-2zM374 273h3v1h-3zM381 273h2v1h-2zM427 273h2v1h-2zM433 273h2v1h-2zM365 217h2v1h-2zM48 499h2v1h-2zM66 499h2v1h-2zM71 499h2v1h-2zM110 499h2v1h-2zM117 499h2v1h-2zM123 499h2v1h-2zM150 499h2v1h-2zM216 499h2v1h-2zM329 499h2v1h-2zM349 499h2v1h-2zM354 499h2v1h-2zM393 499h2v1h-2zM401 499h2v1h-2zM406 499h2v1h-2zM434 499h2v1h-2zM499 499h2v1h-2zM26 412h2v1h-2zM35 412h2v1h-2zM371 243h2v1h-2zM32 254h2v1h-2zM436 254h2v1h-2zM33 80h6v1h-6zM279 80h2v1h-2zM374 266h4v1h-4zM434 266h2v1h-2zM57 580h3v1h-3zM102 580h2v1h-2zM109 580h2v1h-2zM119 580h2v1h-2zM143 580h2v1h-2zM205 580h2v1h-2zM212 580h2v1h-2zM221 580h2v1h-2zM385 580h2v1h-2zM393 580h2v1h-2zM402 580h2v1h-2zM427 580h2v1h-2zM495 580h2v1h-2zM506 580h2v1h-2zM515 580h2v1h-2zM519 580h2v1h-2zM32 377h2v1h-2zM313 111h2v1h-2zM374 111h7v1h-7zM514 111h3v1h-3zM525 111h2v1h-2zM548 111h2v1h-2zM590 111h5v1h-5zM355 179h2v1h-2zM429 179h2v1h-2zM454 179h2v1h-2zM474 179h3v1h-3zM22 296h6v1h-6zM32 296h7v1h-7zM358 190h2v1h-2zM439 190h5v1h-5zM463 190h2v1h-2zM373 274h2v1h-2zM22 171h2v1h-2zM32 171h2v1h-2zM424 171h2v1h-2zM462 171h2v1h-2zM485 171h2v1h-2zM271 137h3v1h-3zM283 137h2v1h-2zM294 137h2v1h-2zM320 137h2v1h-2zM351 137h2v1h-2zM360 137h3v1h-3zM370 137h2v1h-2zM387 137h4v1h-4zM537 137h3v1h-3zM59 524h2v1h-2zM226 524h2v1h-2zM235 524h2v1h-2zM295 101h2v1h-2zM331 101h2v1h-2zM423 101h2v1h-2zM434 101h3v1h-3zM457 101h2v1h-2zM528 101h2v1h-2zM556 101h2v1h-2zM609 101h3v1h-3zM617 101h2v1h-2zM25 168h2v1h-2zM422 168h2v1h-2zM465 168h2v1h-2zM489 168h2v1h-2zM32 375h3v1h-3zM32 211h2v1h-2zM425 265h2v1h-2zM394 220h2v1h-2zM405 220h3v1h-3zM389 225h2v1h-2zM412 225h2v1h-2zM375 268h3v1h-3zM3 438h2v1h-2zM17 438h2v1h-2zM27 438h2v1h-2zM32 335h2v1h-2zM12 64h7v1h-7zM33 326h6v1h-6zM434 95h3v1h-3zM445 95h3v1h-3zM589 95h3v1h-3zM27 415h2v1h-2zM2 442h2v1h-2zM7 442h2v1h-2zM32 204h2v1h-2zM37 204h2v1h-2zM362 204h2v1h-2zM26 373h2v1h-2zM34 373h2v1h-2zM354 175h2v1h-2zM458 175h2v1h-2zM480 175h2v1h-2zM357 186h2v1h-2zM447 186h2v1h-2zM467 186h2v1h-2zM32 286h2v1h-2zM37 286h2v1h-2zM431 286h2v1h-2zM32 212h2v1h-2zM364 212h2v1h-2zM448 212h2v1h-2zM455 178h2v1h-2zM476 178h2v1h-2zM32 293h3v1h-3zM368 235h3v1h-3zM417 235h2v1h-2zM27 369h2v1h-2zM36 369h3v1h-3zM145 151h8v1h-8zM254 151h2v1h-2zM407 151h2v1h-2zM492 151h4v1h-4zM515 151h2v1h-2zM585 151h4v1h-4zM32 128h3v1h-3zM326 128h2v1h-2zM330 128h4v1h-4zM375 128h2v1h-2zM552 128h3v1h-3zM429 288h3v1h-3zM291 90h2v1h-2zM295 90h7v1h-7zM25 327h2v1h-2zM32 327h2v1h-2zM37 327h2v1h-2zM32 334h3v1h-3zM22 418h2v1h-2zM27 418h2v1h-2zM32 418h2v1h-2zM415 231h2v1h-2zM441 231h2v1h-2zM457 197h2v1h-2zM372 277h2v1h-2zM383 277h2v1h-2zM375 269h3v1h-3zM426 269h2v1h-2zM36 82h3v1h-3zM183 82h2v1h-2zM441 227h3v1h-3zM269 38h2v1h-2zM310 38h2v1h-2zM32 82h1v5h-1zM32 90h1v1h-1zM32 123h1v5h-1zM32 131h1v1h-1zM32 164h1v5h-1zM32 172h1v1h-1zM32 205h1v5h-1zM32 213h1v1h-1zM32 246h1v6h-1zM32 287h1v6h-1zM32 328h1v6h-1zM32 369h1v6h-1zM32 410h1v6h-1zM44 44h1v40h-1zM44 85h1v1h-1zM44 87h1v38h-1zM44 126h1v22h-1zM44 149h1v17h-1zM44 167h1v40h-1zM44 208h1v40h-1zM44 249h1v41h-1zM44 291h1v40h-1zM44 332h1v40h-1zM44 373h1v40h-1zM44 414h1v40h-1zM44 463h1v9h-1zM44 494h1v20h-1zM44 515h1v21h-1zM44 537h1v8h-1zM44 547h1v23h-1zM44 578h1v79h-1zM271 44h1v6h-1zM271 62h1v22h-1zM271 85h1v2h-1zM271 88h1v37h-1zM271 126h1v11h-1zM271 141h1v25h-1zM271 167h1v40h-1zM271 208h1v40h-1zM271 249h1v41h-1zM271 291h1v40h-1zM271 332h1v40h-1zM271 373h1v40h-1zM271 414h1v40h-1zM412 50h1v4h-1zM412 56h1v6h-1zM412 92h1v4h-1zM412 98h1v6h-1zM453 50h1v7h-1zM453 59h1v3h-1zM453 92h1v7h-1zM453 101h1v3h-1zM453 204h1v1h-1zM384 44h1v40h-1zM384 85h1v32h-1zM384 119h1v6h-1zM384 126h1v9h-1zM384 137h1v29h-1zM384 167h1v40h-1zM384 208h1v24h-1zM384 235h1v2h-1zM384 241h1v7h-1zM384 249h1v27h-1zM384 279h1v11h-1zM384 291h1v40h-1zM384 332h1v40h-1zM384 373h1v40h-1zM384 414h1v40h-1zM320 138h1v2h-1zM320 494h1v20h-1zM320 515h1v142h-1zM157 10h1v2h-1zM157 15h1v1h-1zM157 29h1v6h-1zM157 44h1v28h-1zM157 73h1v6h-1zM157 80h1v4h-1zM157 85h1v1h-1zM157 87h1v38h-1zM157 126h1v26h-1zM157 153h1v13h-1zM157 167h1v40h-1zM157 208h1v40h-1zM157 249h1v41h-1zM157 291h1v40h-1zM157 332h1v40h-1zM157 373h1v40h-1zM157 414h1v40h-1zM157 464h1v7h-1zM611 44h1v10h-1zM611 55h1v1h-1zM611 60h1v1h-1zM611 62h1v22h-1zM611 85h1v11h-1zM611 97h1v1h-1zM611 102h1v1h-1zM611 106h1v19h-1zM611 126h1v32h-1zM611 160h1v6h-1zM611 167h1v40h-1zM611 208h1v40h-1zM611 249h1v41h-1zM611 291h1v40h-1zM611 332h1v40h-1zM611 373h1v40h-1zM611 414h1v40h-1zM284 5h1v1h-1zM284 9h1v8h-1zM284 24h1v1h-1zM284 28h1v9h-1zM284 50h1v1h-1zM284 82h1v2h-1zM284 138h1v2h-1zM327 44h1v40h-1zM327 85h1v12h-1zM327 100h1v25h-1zM327 126h1v1h-1zM327 130h1v36h-1zM327 167h1v40h-1zM327 208h1v40h-1zM327 249h1v41h-1zM327 291h1v40h-1zM327 332h1v40h-1zM327 373h1v40h-1zM327 414h1v40h-1zM449 50h1v1h-1zM449 53h1v9h-1zM449 92h1v1h-1zM449 95h1v9h-1zM449 211h1v1h-1zM441 10h1v3h-1zM441 14h1v1h-1zM441 29h1v3h-1zM441 33h1v2h-1zM441 44h1v40h-1zM441 85h1v40h-1zM441 126h1v40h-1zM441 167h1v23h-1zM441 191h1v16h-1zM441 208h1v19h-1zM441 232h1v4h-1zM441 242h1v6h-1zM441 249h1v41h-1zM441 291h1v40h-1zM441 332h1v40h-1zM441 373h1v40h-1zM441 414h1v40h-1zM498 44h1v40h-1zM498 85h1v40h-1zM498 126h1v23h-1zM498 151h1v11h-1zM498 165h1v1h-1zM498 167h1v40h-1zM498 208h1v40h-1zM498 249h1v41h-1zM498 291h1v40h-1zM498 332h1v40h-1zM498 373h1v40h-1zM498 414h1v40h-1zM256 51h1v4h-1zM256 61h1v1h-1zM256 75h1v3h-1zM316 101h1v2h-1zM316 127h1v4h-1zM128 68h1v4h-1zM128 73h1v5h-1zM128 472h1v1h-1zM128 498h1v5h-1zM128 504h1v6h-1zM128 519h1v6h-1zM128 537h1v3h-1zM128 542h1v3h-1zM128 559h1v4h-1zM128 570h1v7h-1zM428 274h1v6h-1zM428 523h1v4h-1zM428 536h1v3h-1zM428 558h1v5h-1zM428 577h1v3h-1zM312 104h1v3h-1zM312 117h1v4h-1zM590 7h1v8h-1zM590 26h1v9h-1zM590 55h1v1h-1zM590 70h1v2h-1zM590 96h1v1h-1zM590 113h1v1h-1zM590 462h1v1h-1zM590 465h1v9h-1zM78 51h1v11h-1zM427 175h1v1h-1zM427 270h1v3h-1zM427 571h1v3h-1zM49 498h1v1h-1zM49 501h1v8h-1zM49 517h1v1h-1zM49 520h1v8h-1zM214 44h1v11h-1zM214 56h1v12h-1zM214 70h1v9h-1zM214 80h1v4h-1zM214 85h1v1h-1zM214 87h1v38h-1zM214 126h1v40h-1zM214 167h1v40h-1zM214 208h1v40h-1zM214 249h1v41h-1zM214 291h1v40h-1zM214 332h1v40h-1zM214 373h1v40h-1zM214 414h1v40h-1zM593 50h1v1h-1zM593 53h1v9h-1zM593 92h1v1h-1zM593 95h1v9h-1zM593 466h1v1h-1zM249 51h1v5h-1zM249 57h1v5h-1zM249 70h1v2h-1zM249 77h1v1h-1zM188 11h1v6h-1zM188 51h1v4h-1zM587 50h1v1h-1zM587 54h1v8h-1zM587 92h1v1h-1zM587 95h1v9h-1zM554 44h1v24h-1zM554 75h1v9h-1zM554 85h1v25h-1zM554 111h1v14h-1zM554 126h1v1h-1zM554 129h1v14h-1zM554 144h1v22h-1zM554 167h1v40h-1zM554 208h1v40h-1zM554 249h1v41h-1zM554 291h1v40h-1zM554 332h1v40h-1zM554 373h1v40h-1zM554 414h1v40h-1zM22 172h1v1h-1zM22 244h1v7h-1zM22 286h1v3h-1zM22 333h1v3h-1zM22 410h1v3h-1zM22 415h1v3h-1zM22 438h1v2h-1zM22 443h1v1h-1zM421 242h1v2h-1zM421 518h1v4h-1zM421 553h1v4h-1zM161 69h1v1h-1zM161 465h1v1h-1zM177 10h1v5h-1zM177 50h1v7h-1zM177 73h1v5h-1zM177 82h1v1h-1zM77 6h1v11h-1zM77 70h1v2h-1zM77 73h1v7h-1zM77 462h1v3h-1zM77 466h1v6h-1zM476 517h1v1h-1zM476 520h1v8h-1zM476 535h1v1h-1zM476 537h1v9h-1zM476 552h1v1h-1zM476 555h1v9h-1zM476 570h1v1h-1zM476 573h1v8h-1zM311 11h1v5h-1zM311 17h1v2h-1zM311 30h1v6h-1zM311 37h1v1h-1zM311 51h1v4h-1zM311 56h1v6h-1zM311 101h1v2h-1zM311 122h1v3h-1zM572 49h1v1h-1zM572 54h1v7h-1zM572 468h1v1h-1zM38 79h1v1h-1zM38 83h1v8h-1zM38 120h1v1h-1zM38 124h1v8h-1zM38 161h1v1h-1zM38 165h1v8h-1zM38 202h1v1h-1zM38 206h1v8h-1zM38 243h1v1h-1zM38 247h1v8h-1zM38 284h1v1h-1zM38 288h1v8h-1zM38 325h1v1h-1zM38 329h1v8h-1zM38 366h1v1h-1zM38 370h1v8h-1zM38 407h1v1h-1zM38 411h1v8h-1zM198 52h1v6h-1zM198 68h1v11h-1zM198 464h1v10h-1zM170 10h1v6h-1zM170 468h1v1h-1zM483 467h1v5h-1zM483 505h1v3h-1zM483 537h1v7h-1zM390 5h1v4h-1zM390 10h1v6h-1zM390 24h1v4h-1zM390 29h1v7h-1zM390 560h1v2h-1zM390 572h1v2h-1zM431 6h1v5h-1zM431 12h1v5h-1zM431 25h1v5h-1zM431 31h1v6h-1zM431 287h1v1h-1zM386 231h1v1h-1zM386 518h1v3h-1zM386 524h1v3h-1zM386 536h1v3h-1zM386 541h1v4h-1zM386 553h1v4h-1zM386 559h1v4h-1zM386 571h1v3h-1zM386 576h1v4h-1zM205 462h1v1h-1zM205 465h1v9h-1zM100 44h1v6h-1zM100 62h1v10h-1zM100 74h1v10h-1zM100 85h1v1h-1zM100 87h1v38h-1zM100 126h1v21h-1zM100 148h1v18h-1zM100 167h1v40h-1zM100 208h1v40h-1zM100 249h1v41h-1zM100 291h1v40h-1zM100 332h1v40h-1zM100 373h1v40h-1zM100 414h1v40h-1zM559 70h1v3h-1zM559 111h1v1h-1zM559 464h1v7h-1zM355 176h1v3h-1zM355 498h1v1h-1zM355 501h1v9h-1zM203 522h1v1h-1zM203 535h1v1h-1zM203 537h1v9h-1zM547 118h1v1h-1zM426 50h1v1h-1zM426 53h1v8h-1zM426 266h1v3h-1zM596 7h1v1h-1zM596 14h1v2h-1zM596 26h1v1h-1zM596 34h1v1h-1zM596 462h1v1h-1zM596 465h1v9h-1zM6 436h1v3h-1zM209 462h1v5h-1zM209 468h1v6h-1zM374 103h1v8h-1zM374 123h1v2h-1zM374 146h1v2h-1zM374 258h1v8h-1zM374 282h1v7h-1zM374 517h1v8h-1zM374 526h1v3h-1zM374 535h1v7h-1zM374 543h1v4h-1zM374 552h1v8h-1zM374 561h1v4h-1zM374 570h1v7h-1zM374 578h1v4h-1zM597 50h1v5h-1zM597 56h1v6h-1zM597 92h1v5h-1zM597 98h1v6h-1zM454 7h1v2h-1zM454 10h1v7h-1zM454 26h1v2h-1zM454 29h1v8h-1zM574 75h1v3h-1zM574 116h1v1h-1zM574 119h1v1h-1zM574 465h1v1h-1zM610 494h1v20h-1zM610 515h1v142h-1zM95 14h1v1h-1zM95 50h1v8h-1zM95 61h1v1h-1zM95 72h1v1h-1zM95 75h1v5h-1zM95 465h1v1h-1zM95 468h1v6h-1zM361 197h1v3h-1zM295 50h1v7h-1zM295 58h1v4h-1zM295 99h1v2h-1zM295 138h1v2h-1zM489 534h1v1h-1zM489 538h1v8h-1zM74 25h1v5h-1zM74 31h1v6h-1zM371 138h1v2h-1zM371 154h1v4h-1zM371 245h1v1h-1zM371 254h1v3h-1zM371 259h1v4h-1zM506 564h1v1h-1zM506 581h1v1h-1zM363 7h1v6h-1zM363 26h1v6h-1zM363 35h1v1h-1zM363 205h1v2h-1zM436 33h1v1h-1zM436 186h1v1h-1zM436 255h1v4h-1zM436 501h1v6h-1zM12 433h1v4h-1zM12 438h1v6h-1zM138 6h1v1h-1zM138 24h1v4h-1zM138 29h1v6h-1zM138 518h1v4h-1zM138 545h1v1h-1zM138 553h1v4h-1zM396 6h1v4h-1zM396 11h1v5h-1zM396 25h1v5h-1zM396 31h1v5h-1zM396 554h1v3h-1zM396 560h1v3h-1zM396 572h1v3h-1zM282 53h1v1h-1zM282 58h1v1h-1zM282 62h1v7h-1zM282 152h1v1h-1zM282 155h1v8h-1zM190 570h1v7h-1zM107 560h1v2h-1zM107 572h1v2h-1zM550 53h1v1h-1zM550 92h1v7h-1zM550 100h1v4h-1zM417 234h1v1h-1zM417 498h1v5h-1zM417 504h1v6h-1zM417 516h1v1h-1zM417 520h1v8h-1zM417 537h1v2h-1zM417 542h1v3h-1zM417 560h1v3h-1zM263 10h1v5h-1zM263 19h1v1h-1zM263 29h1v6h-1zM263 38h1v1h-1zM402 52h1v8h-1zM402 93h1v9h-1zM434 267h1v6h-1zM194 10h1v7h-1zM194 56h1v4h-1zM194 570h1v7h-1zM194 578h1v4h-1zM143 467h1v5h-1zM132 10h1v7h-1zM132 30h1v1h-1zM132 34h1v1h-1zM132 56h1v1h-1zM132 78h1v1h-1zM132 463h1v3h-1zM132 468h1v4h-1zM132 520h1v1h-1zM132 552h1v1h-1zM132 570h1v7h-1zM132 578h1v4h-1zM206 516h1v1h-1zM206 520h1v8h-1zM206 560h1v3h-1zM206 571h1v3h-1zM206 576h1v4h-1zM531 94h1v3h-1zM531 467h1v2h-1zM178 464h1v5h-1zM178 472h1v1h-1zM566 52h1v8h-1zM566 93h1v3h-1zM307 56h1v4h-1zM215 462h1v5h-1zM215 468h1v6h-1zM443 50h1v1h-1zM443 54h1v8h-1zM443 92h1v1h-1zM443 95h1v9h-1zM443 225h1v2h-1zM134 498h1v5h-1zM134 504h1v6h-1zM134 516h1v1h-1zM134 520h1v8h-1zM134 543h1v2h-1zM134 560h1v3h-1zM478 50h1v1h-1zM478 53h1v8h-1zM562 12h1v3h-1zM562 32h1v2h-1zM562 56h1v4h-1zM562 93h1v3h-1zM562 467h1v2h-1zM290 5h1v1h-1zM290 8h1v9h-1zM290 24h1v1h-1zM290 27h1v10h-1zM290 92h1v2h-1zM290 134h1v2h-1zM226 518h1v3h-1zM333 570h1v7h-1zM333 578h1v4h-1zM369 4h1v1h-1zM369 8h1v8h-1zM369 23h1v1h-1zM369 27h1v9h-1zM369 233h1v1h-1zM420 240h1v1h-1zM221 519h1v3h-1zM221 524h1v3h-1zM221 572h1v6h-1zM505 50h1v7h-1zM505 92h1v7h-1zM526 12h1v1h-1zM526 31h1v1h-1zM526 72h1v1h-1zM526 110h1v1h-1zM526 112h1v9h-1zM223 76h1v1h-1zM223 577h1v1h-1zM71 467h1v7h-1zM280 57h1v2h-1zM280 81h1v2h-1zM280 139h1v2h-1zM184 74h1v5h-1zM184 80h1v2h-1zM184 461h1v1h-1zM184 465h1v8h-1zM87 502h1v1h-1zM87 505h1v5h-1zM87 517h1v8h-1zM87 535h1v7h-1zM87 552h1v8h-1zM87 570h1v7h-1zM224 535h1v1h-1zM224 537h1v9h-1zM224 552h1v1h-1zM224 555h1v9h-1zM224 575h1v1h-1zM614 469h1v1h-1zM342 7h1v8h-1zM342 26h1v8h-1zM342 119h1v1h-1zM342 142h1v1h-1zM287 10h1v1h-1zM287 29h1v1h-1zM287 74h1v2h-1zM287 101h1v2h-1zM287 146h1v2h-1zM259 11h1v5h-1zM259 30h1v5h-1zM278 75h1v2h-1zM278 145h1v2h-1zM551 5h1v4h-1zM551 10h1v6h-1zM551 24h1v4h-1zM551 29h1v7h-1zM551 468h1v1h-1zM486 5h1v1h-1zM486 8h1v8h-1zM486 24h1v1h-1zM486 27h1v9h-1zM486 540h1v2h-1zM359 191h1v2h-1zM520 4h1v1h-1zM520 8h1v8h-1zM520 23h1v1h-1zM520 27h1v9h-1zM520 518h1v3h-1zM520 524h1v3h-1zM520 537h1v3h-1zM520 554h1v4h-1zM520 577h1v3h-1zM522 70h1v8h-1zM91 10h1v1h-1zM91 30h1v2h-1zM91 74h1v5h-1zM91 467h1v2h-1zM91 517h1v8h-1zM91 526h1v3h-1zM91 535h1v7h-1zM91 543h1v4h-1zM91 552h1v8h-1zM91 561h1v4h-1zM91 570h1v7h-1zM91 578h1v4h-1zM516 12h1v1h-1zM516 31h1v1h-1zM516 60h1v1h-1zM516 102h1v1h-1zM516 112h1v9h-1zM516 527h1v1h-1zM516 546h1v1h-1zM516 564h1v1h-1zM516 573h1v1h-1zM557 6h1v4h-1zM557 11h1v5h-1zM557 25h1v5h-1zM557 31h1v5h-1zM557 77h1v1h-1zM557 117h1v2h-1zM425 172h1v1h-1zM425 261h1v4h-1zM409 7h1v1h-1zM409 26h1v1h-1zM28 163h1v3h-1zM28 209h1v4h-1zM28 291h1v4h-1zM28 334h1v2h-1zM28 368h1v1h-1zM28 416h1v2h-1zM28 442h1v1h-1zM108 25h1v12h-1zM108 554h1v4h-1zM464 54h1v1h-1zM464 57h1v5h-1zM464 96h1v1h-1zM464 99h1v5h-1zM367 8h1v1h-1zM367 27h1v1h-1zM367 139h1v2h-1zM367 163h1v1h-1zM367 224h1v4h-1zM367 238h1v2h-1zM367 263h1v1h-1zM119 61h1v1h-1zM518 8h1v1h-1zM518 27h1v1h-1zM518 463h1v3h-1zM518 543h1v1h-1zM518 561h1v1h-1zM518 570h1v1h-1zM80 69h1v1h-1zM54 26h1v1h-1zM54 35h1v1h-1zM54 52h1v8h-1zM54 467h1v2h-1zM54 470h1v2h-1zM504 467h1v7h-1zM504 518h1v4h-1zM504 554h1v3h-1zM504 572h1v3h-1zM225 50h1v4h-1zM225 55h1v6h-1zM225 68h1v9h-1zM225 79h1v1h-1zM225 573h1v1h-1zM301 10h1v3h-1zM301 14h1v2h-1zM301 29h1v3h-1zM301 33h1v3h-1zM301 51h1v4h-1zM253 10h1v5h-1zM253 29h1v6h-1zM163 14h1v1h-1zM163 30h1v5h-1zM163 461h1v1h-1zM163 465h1v8h-1zM586 69h1v4h-1zM586 74h1v5h-1zM586 111h1v2h-1zM586 116h1v5h-1zM76 498h1v7h-1zM76 507h1v3h-1zM266 70h1v1h-1zM266 75h1v3h-1zM237 520h1v2h-1zM237 536h1v3h-1zM237 555h1v2h-1zM237 571h1v3h-1zM581 68h1v4h-1zM581 73h1v6h-1zM581 110h1v4h-1zM581 117h1v4h-1zM508 542h1v2h-1zM508 561h1v1h-1zM508 578h1v1h-1zM281 85h1v1h-1zM281 136h1v2h-1zM530 4h1v1h-1zM530 8h1v8h-1zM530 23h1v1h-1zM530 27h1v9h-1zM530 470h1v1h-1zM424 254h1v6h-1zM360 194h1v2h-1zM360 498h1v6h-1zM360 506h1v4h-1zM305 10h1v5h-1zM305 19h1v1h-1zM305 29h1v6h-1zM305 38h1v1h-1zM195 553h1v5h-1zM150 29h1v7h-1zM150 55h1v1h-1zM150 498h1v1h-1zM150 509h1v1h-1zM270 11h1v5h-1zM270 17h1v2h-1zM270 30h1v6h-1zM270 37h1v1h-1zM160 50h1v1h-1zM160 53h1v8h-1zM160 73h1v6h-1zM160 467h1v2h-1zM444 222h1v2h-1zM500 500h1v2h-1zM500 505h1v3h-1zM227 525h1v2h-1zM227 569h1v1h-1zM227 573h1v8h-1zM144 523h1v4h-1zM144 536h1v3h-1zM144 558h1v5h-1zM144 571h1v3h-1zM144 576h1v4h-1zM64 55h1v2h-1zM64 58h1v2h-1zM64 73h1v3h-1zM64 77h1v1h-1zM64 467h1v7h-1zM182 50h1v7h-1zM182 58h1v4h-1zM182 465h1v1h-1zM111 10h1v7h-1zM111 55h1v2h-1zM111 58h1v3h-1zM111 74h1v2h-1zM111 498h1v1h-1zM111 509h1v1h-1zM111 517h1v1h-1zM111 520h1v8h-1zM111 537h1v9h-1zM111 578h1v1h-1zM126 10h1v7h-1zM126 29h1v6h-1zM126 55h1v2h-1zM126 58h1v2h-1zM411 498h1v5h-1zM411 504h1v6h-1zM411 519h1v6h-1zM411 537h1v2h-1zM411 542h1v2h-1zM411 560h1v2h-1zM411 570h1v7h-1zM129 10h1v7h-1zM373 120h1v2h-1zM373 143h1v2h-1zM373 245h1v1h-1zM373 252h1v5h-1zM373 275h1v2h-1zM18 65h1v3h-1zM18 71h1v3h-1zM18 439h1v5h-1zM549 55h1v1h-1zM549 70h1v2h-1zM549 75h1v4h-1zM549 112h1v3h-1zM549 464h1v5h-1zM549 472h1v1h-1zM153 49h1v1h-1zM153 53h1v8h-1zM153 73h1v7h-1zM245 78h1v2h-1zM308 95h1v1h-1zM308 135h1v1h-1zM345 11h1v1h-1zM345 30h1v1h-1zM345 148h1v1h-1zM352 167h1v2h-1zM352 503h1v1h-1zM525 74h1v1h-1zM525 94h1v2h-1zM172 465h1v1h-1zM231 51h1v10h-1zM231 519h1v3h-1zM231 545h1v1h-1zM231 554h1v3h-1zM231 580h1v1h-1zM432 281h1v5h-1zM329 508h1v1h-1zM329 545h1v1h-1zM329 570h1v7h-1zM370 136h1v1h-1zM370 237h1v1h-1zM370 502h1v1h-1zM370 505h1v5h-1zM370 517h1v8h-1zM370 535h1v7h-1zM370 552h1v8h-1zM370 570h1v7h-1zM552 49h1v1h-1zM552 53h1v8h-1zM314 117h1v2h-1zM1 71h1v3h-1zM406 12h1v1h-1zM406 32h1v1h-1zM50 464h1v1h-1zM50 471h1v1h-1zM50 570h1v7h-1zM50 578h1v4h-1zM200 57h1v1h-1zM200 505h1v3h-1zM200 519h1v6h-1zM200 559h1v4h-1zM561 7h1v2h-1zM561 26h1v3h-1zM561 470h1v1h-1zM521 51h1v3h-1zM521 56h1v4h-1zM521 93h1v3h-1zM521 98h1v4h-1zM600 462h1v5h-1zM600 468h1v6h-1zM528 8h1v1h-1zM528 27h1v1h-1zM528 67h1v1h-1zM528 72h1v7h-1zM528 464h1v7h-1zM81 26h1v3h-1zM81 36h1v1h-1zM81 472h1v1h-1zM81 501h1v1h-1zM493 7h1v6h-1zM493 26h1v6h-1zM493 35h1v1h-1zM493 467h1v2h-1zM493 470h1v3h-1zM543 70h1v3h-1zM543 75h1v3h-1zM543 111h1v4h-1zM378 103h1v8h-1zM378 112h1v3h-1zM378 130h1v1h-1zM378 261h1v2h-1zM378 282h1v7h-1zM378 291h1v3h-1zM514 7h1v6h-1zM514 26h1v6h-1zM514 35h1v1h-1zM514 537h1v2h-1zM514 554h1v3h-1zM514 577h1v2h-1zM487 470h1v2h-1zM487 517h1v1h-1zM487 520h1v8h-1zM487 538h1v1h-1zM487 552h1v1h-1zM487 555h1v9h-1zM487 570h1v1h-1zM487 573h1v8h-1zM109 501h1v6h-1zM109 581h1v1h-1zM235 51h1v9h-1zM235 69h1v4h-1zM235 525h1v1h-1zM235 561h1v1h-1zM246 51h1v4h-1zM246 61h1v1h-1zM204 49h1v1h-1zM204 53h1v8h-1zM204 520h1v1h-1zM204 552h1v1h-1zM335 5h1v1h-1zM335 8h1v8h-1zM335 24h1v1h-1zM335 27h1v9h-1zM335 499h1v3h-1zM335 536h1v3h-1zM335 559h1v4h-1zM121 56h1v1h-1zM121 462h1v7h-1zM121 470h1v4h-1zM121 503h1v1h-1zM260 70h1v2h-1zM260 77h1v2h-1zM103 518h1v3h-1zM103 524h1v3h-1zM103 536h1v3h-1zM103 541h1v4h-1zM103 553h1v4h-1zM103 559h1v4h-1zM103 571h1v3h-1zM103 576h1v4h-1zM510 523h1v4h-1zM510 536h1v1h-1zM510 555h1v2h-1zM510 573h1v2h-1zM133 536h1v3h-1zM347 128h1v2h-1zM347 153h1v2h-1zM438 7h1v3h-1zM438 16h1v1h-1zM438 26h1v3h-1zM438 36h1v1h-1zM438 247h1v1h-1zM438 249h1v1h-1zM229 69h1v5h-1zM229 75h1v5h-1zM146 10h1v2h-1zM146 15h1v1h-1zM146 74h1v6h-1zM173 29h1v8h-1zM173 73h1v7h-1zM365 12h1v1h-1zM365 31h1v1h-1zM365 145h1v2h-1zM365 213h1v4h-1zM365 243h1v2h-1zM365 509h1v1h-1zM404 16h1v1h-1zM404 36h1v1h-1zM404 503h1v1h-1zM286 57h1v4h-1zM286 77h1v2h-1zM286 104h1v1h-1zM101 10h1v3h-1zM101 14h1v2h-1zM101 25h1v1h-1zM348 4h1v1h-1zM348 9h1v7h-1zM348 23h1v1h-1zM348 28h1v8h-1zM348 131h1v1h-1zM348 156h1v2h-1zM408 9h1v1h-1zM408 28h1v1h-1zM408 52h1v1h-1zM408 59h1v2h-1zM408 94h1v1h-1zM408 101h1v2h-1zM88 51h1v11h-1zM556 51h1v4h-1zM556 79h1v1h-1zM556 102h1v1h-1zM556 120h1v2h-1zM368 136h1v2h-1zM368 229h1v3h-1zM239 51h1v5h-1zM239 57h1v5h-1zM239 78h1v2h-1zM294 14h1v1h-1zM294 33h1v2h-1zM294 97h1v1h-1zM294 110h1v3h-1zM294 135h1v2h-1zM294 150h1v3h-1zM509 50h1v7h-1zM509 58h1v4h-1zM509 92h1v7h-1zM509 100h1v4h-1zM509 538h1v3h-1zM364 148h1v1h-1zM364 208h1v4h-1zM364 246h1v2h-1zM364 501h1v1h-1zM317 132h1v4h-1zM439 242h1v4h-1zM495 12h1v1h-1zM495 31h1v1h-1zM495 499h1v4h-1zM495 504h1v5h-1zM474 92h1v7h-1zM84 9h1v1h-1zM84 12h1v5h-1zM84 29h1v3h-1zM84 33h1v2h-1zM455 201h1v1h-1zM346 9h1v1h-1zM346 28h1v1h-1zM346 126h1v1h-1zM346 150h1v2h-1zM405 14h1v1h-1zM405 34h1v1h-1zM405 501h1v1h-1zM27 204h1v4h-1zM27 370h1v3h-1zM27 409h1v3h-1zM565 461h1v1h-1zM565 465h1v8h-1zM429 93h1v3h-1zM429 178h1v1h-1zM429 281h1v7h-1zM233 528h1v1h-1zM233 564h1v1h-1zM366 10h1v1h-1zM366 29h1v1h-1zM366 142h1v2h-1zM366 218h1v5h-1zM366 241h1v1h-1zM98 56h1v1h-1zM98 527h1v1h-1zM98 545h1v1h-1zM98 563h1v1h-1zM98 580h1v1h-1zM241 71h1v2h-1zM13 65h1v4h-1zM13 70h1v5h-1zM437 251h1v3h-1zM296 102h1v2h-1zM296 141h1v2h-1zM401 12h1v3h-1zM401 32h1v2h-1zM401 498h1v1h-1zM401 502h1v8h-1zM621 155h1v4h-1zM532 465h1v1h-1zM341 116h1v2h-1zM341 140h1v1h-1zM604 50h1v5h-1zM604 56h1v6h-1zM604 92h1v5h-1zM604 98h1v6h-1zM375 126h1v2h-1zM383 12h1v3h-1zM383 31h1v4h-1zM60 26h1v3h-1zM60 52h1v1h-1zM60 59h1v2h-1zM60 70h1v2h-1zM60 75h1v3h-1zM60 467h1v2h-1zM340 114h1v1h-1zM340 137h1v2h-1zM340 579h1v1h-1zM381 122h1v2h-1zM381 246h1v2h-1zM381 249h1v1h-1zM381 271h1v2h-1zM113 554h1v3h-1zM113 560h1v3h-1zM113 572h1v3h-1zM591 53h1v1h-1zM591 75h1v3h-1zM591 117h1v3h-1zM183 11h1v5h-1zM72 498h1v1h-1zM72 501h1v9h-1zM499 4h1v1h-1zM499 8h1v8h-1zM499 23h1v1h-1zM499 27h1v9h-1zM349 133h1v1h-1zM349 159h1v1h-1zM349 498h1v1h-1zM349 502h1v8h-1zM524 7h1v6h-1zM524 26h1v6h-1zM524 35h1v1h-1zM524 76h1v2h-1zM524 467h1v5h-1zM618 99h1v1h-1zM618 102h1v8h-1zM208 70h1v8h-1zM243 5h1v11h-1zM243 24h1v12h-1zM243 71h1v3h-1zM407 30h1v1h-1zM407 498h1v1h-1zM407 501h1v9h-1zM400 7h1v2h-1zM400 26h1v3h-1zM391 554h1v4h-1zM147 51h1v7h-1zM34 86h1v1h-1zM34 127h1v1h-1zM34 168h1v1h-1zM34 209h1v1h-1zM34 251h1v1h-1zM34 292h1v1h-1zM34 333h1v1h-1zM34 374h1v1h-1zM34 415h1v1h-1zM353 170h1v2h-1zM353 501h1v1h-1zM416 232h1v1h-1zM416 570h1v7h-1zM416 578h1v4h-1zM546 52h1v6h-1zM546 92h1v7h-1zM293 94h1v2h-1zM293 132h1v2h-1zM97 26h1v2h-1zM97 29h1v8h-1zM527 10h1v1h-1zM527 29h1v1h-1zM527 103h1v1h-1zM372 118h1v1h-1zM372 141h1v1h-1zM372 159h1v4h-1zM372 250h1v1h-1zM382 119h1v2h-1zM382 241h1v4h-1zM382 274h1v2h-1zM382 527h1v1h-1zM382 545h1v1h-1zM382 563h1v1h-1zM382 580h1v1h-1zM545 11h1v4h-1zM545 30h1v5h-1zM545 121h1v1h-1zM379 127h1v2h-1zM379 256h1v4h-1zM379 265h1v2h-1zM117 56h1v2h-1zM117 498h1v1h-1zM117 501h1v9h-1zM56 69h1v4h-1zM56 74h1v5h-1zM285 80h1v1h-1zM285 141h1v1h-1zM357 184h1v2h-1zM418 55h1v7h-1zM418 97h1v7h-1zM418 162h1v1h-1zM418 236h1v1h-1zM452 206h1v1h-1zM310 98h1v2h-1zM310 127h1v4h-1zM130 524h1v1h-1zM130 555h1v1h-1zM167 30h1v7h-1zM167 74h1v6h-1zM171 6h1v1h-1zM70 56h1v1h-1zM70 74h1v2h-1zM70 501h1v1h-1zM289 95h1v2h-1zM289 137h1v1h-1zM288 8h1v1h-1zM288 27h1v1h-1zM288 98h1v2h-1zM288 119h1v1h-1zM288 139h1v2h-1zM288 159h1v1h-1zM202 53h1v1h-1zM202 466h1v1h-1zM202 524h1v1h-1zM202 555h1v1h-1zM85 73h1v5h-1zM85 467h1v2h-1zM85 470h1v2h-1zM315 104h1v4h-1zM315 120h1v5h-1zM410 5h1v1h-1zM410 24h1v1h-1zM344 13h1v2h-1zM344 32h1v2h-1zM344 123h1v1h-1zM344 146h1v1h-1zM318 137h1v3h-1zM573 98h1v4h-1zM212 499h1v4h-1zM212 504h1v5h-1zM459 61h1v1h-1zM459 103h1v1h-1zM607 462h1v5h-1zM607 468h1v6h-1zM377 265h1v1h-1zM517 10h1v1h-1zM517 29h1v1h-1zM558 75h1v1h-1zM558 113h1v3h-1zM26 244h1v7h-1zM26 252h1v4h-1zM26 326h1v1h-1zM26 374h1v2h-1zM447 11h1v2h-1zM447 30h1v2h-1zM447 53h1v1h-1zM447 215h1v1h-1zM394 517h1v1h-1zM394 520h1v8h-1zM394 535h1v1h-1zM394 537h1v9h-1zM394 579h1v1h-1zM497 8h1v1h-1zM497 27h1v1h-1zM497 467h1v7h-1zM423 169h1v1h-1zM423 249h1v4h-1zM423 580h1v1h-1zM350 135h1v1h-1zM350 161h1v2h-1zM387 229h1v1h-1zM169 6h1v1h-1zM354 173h1v2h-1zM174 461h1v1h-1zM174 465h1v8h-1zM413 524h1v1h-1zM413 555h1v1h-1zM466 464h1v2h-1zM466 471h1v1h-1zM309 132h1v2h-1zM105 11h1v6h-1zM105 59h1v1h-1zM105 73h1v3h-1zM105 77h1v1h-1zM7 441h1v1h-1zM380 251h1v4h-1zM380 268h1v2h-1zM217 500h1v2h-1zM217 505h1v3h-1zM52 536h1v3h-1zM435 260h1v6h-1zM115 10h1v2h-1zM115 15h1v1h-1zM115 29h1v3h-1zM115 33h1v2h-1zM25 121h1v1h-1zM25 123h1v9h-1zM25 377h1v2h-1zM332 517h1v1h-1zM332 520h1v8h-1zM136 72h1v6h-1zM122 14h1v1h-1zM122 30h1v2h-1zM122 54h1v1h-1zM122 501h1v1h-1zM242 68h1v2h-1zM339 111h1v2h-1zM339 135h1v1h-1zM470 55h1v1h-1zM470 97h1v1h-1zM139 10h1v6h-1zM35 249h1v1h-1zM35 290h1v1h-1zM35 331h1v1h-1zM35 372h1v1h-1zM35 413h1v1h-1zM23 213h1v1h-1zM496 10h1v1h-1zM496 29h1v1h-1zM124 498h1v1h-1zM124 501h1v9h-1zM36 83h1v1h-1zM36 124h1v1h-1zM36 165h1v1h-1zM36 206h1v1h-1zM36 247h1v1h-1zM36 288h1v1h-1zM36 329h1v1h-1zM36 370h1v1h-1zM36 411h1v1h-1zM576 461h1v1h-1zM576 465h1v8h-1zM277 73h1v1h-1zM277 148h1v1h-1zM196 559h1v4h-1zM415 229h1v2h-1zM415 520h1v1h-1zM415 552h1v1h-1zM376 129h1v2h-1zM376 274h1v1h-1zM376 503h1v1h-1zM116 54h1v1h-1zM116 462h1v7h-1zM219 56h1v4h-1zM219 68h1v8h-1zM219 79h1v1h-1zM321 136h1v1h-1zM222 74h1v1h-1zM222 469h1v1h-1zM570 54h1v1h-1zM570 463h1v6h-1zM570 472h1v1h-1zM563 465h1v1h-1zM51 553h1v4h-1zM51 559h1v5h-1zM507 545h1v2h-1zM279 78h1v2h-1zM279 142h1v2h-1zM8 64h1v4h-1zM8 69h1v6h-1zM8 443h1v2h-1zM57 5h1v1h-1zM57 8h1v8h-1zM93 503h1v1h-1zM297 144h1v1h-1zM392 501h1v6h-1zM330 563h1v1h-1zM168 463h1v6h-1zM168 472h1v1h-1zM445 219h1v2h-1zM555 461h1v1h-1zM555 465h1v8h-1zM47 563h1v1h-1zM2 443h1v2h-1zM490 498h1v4h-1zM490 503h1v6h-1zM458 53h1v1h-1zM458 95h1v1h-1zM338 108h1v2h-1zM5 433h1v2h-1zM4 436h1v2h-1zM142 34h1v1h-1zM142 72h1v7h-1zM140 6h1v1h-1zM140 580h1v1h-1zM395 577h1v1h-1zM79 33h1v1h-1zM479 92h1v7h-1zM479 100h1v4h-1zM529 50h1v1h-1zM529 53h1v8h-1zM529 100h1v1h-1zM414 227h1v1h-1zM414 522h1v1h-1zM240 74h1v1h-1zM240 76h1v1h-1zM358 187h1v3h-1zM534 461h1v1h-1zM534 465h1v8h-1zM159 69h1v1h-1zM159 470h1v1h-1zM319 141h1v2h-1zM362 201h1v3h-1zM283 85h1v1h-1zM283 136h1v1h-1zM131 522h1v1h-1zM473 464h1v1h-1zM473 469h1v2h-1zM477 467h1v6h-1zM477 474h1v4h-1zM201 55h1v1h-1zM201 580h1v1h-1zM152 501h1v6h-1zM450 209h1v1h-1zM457 6h1v1h-1zM457 25h1v1h-1zM457 198h1v1h-1zM207 498h1v4h-1zM207 503h1v6h-1zM292 92h1v1h-1zM66 498h1v1h-1zM66 502h1v8h-1zM322 134h1v1h-1zM137 463h1v3h-1zM351 164h1v2h-1zM433 274h1v6h-1zM568 58h1v2h-1zM422 245h1v3h-1zM46 27h1v7h-1zM120 58h1v2h-1zM393 581h1v1h-1zM446 55h1v1h-1zM446 96h1v1h-1zM446 217h1v1h-1zM343 121h1v1h-1zM343 144h1v1h-1zM334 553h1v5h-1zM291 50h1v7h-1zM291 132h1v1h-1zM356 180h1v3h-1zM553 465h1v1h-1zM302 133h1v1h-1zM430 291h1v1h-1zM448 213h1v1h-1zM419 238h1v1h-1zM276 51h1v4h-1zM118 59h1v1h-1zM548 57h1v1h-1zM69 503h1v1h-1zM24 329h1v1h-1zM191 563h1v1h-1zM102 467h1v1h-1zM180 468h1v1h-1zM151 53h1v1h-1zM323 132h1v1h-1zM485 543h1v1h-1zM569 56h1v1h-1zM3 439h1v1h-1zM3 441h1v1h-1zM460 194h1v1h-1zM388 227h1v1h-1zM82 509h1v1h-1zM244 76h1v1h-1zM149 57h1v1h-1z"/>
<path d="M46 5L53.6 10.6L46 16.2Z" fill="#000"/>
<path d="M37 38L44 43.5L37 49Z" fill="#000"/>
</svg>
</body></html>
